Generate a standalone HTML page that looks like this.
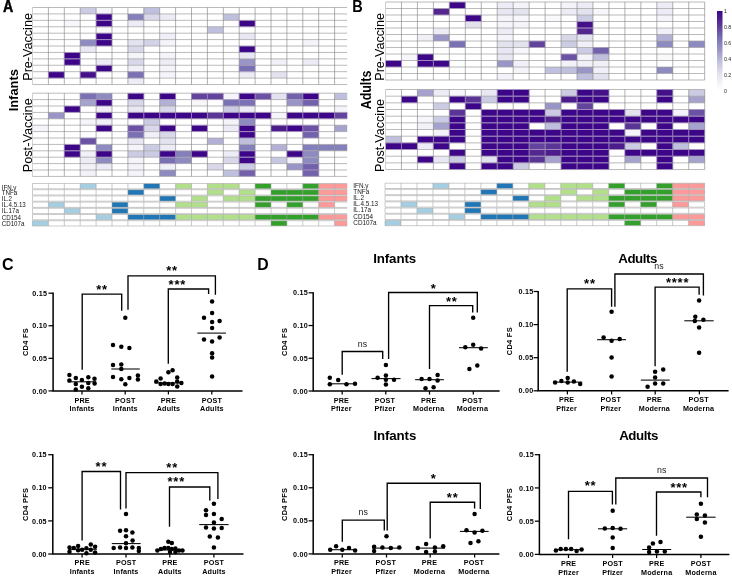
<!DOCTYPE html>
<html><head><meta charset="utf-8"><title>Figure</title>
<style>
html,body{margin:0;padding:0;background:#fff;}
body{width:732px;height:577px;overflow:hidden;font-family:"Liberation Sans",sans-serif;}
svg{display:block;will-change:transform;}
</style></head><body>
<svg width="732" height="577" viewBox="0 0 732 577">
<rect x="0" y="0" width="732" height="577" fill="#ffffff"/>
<rect x="80.20" y="7.50" width="15.90" height="6.42" fill="#cbcce3"/>
<rect x="96.10" y="7.50" width="15.90" height="6.42" fill="#f5f4fa"/>
<rect x="143.80" y="7.50" width="15.90" height="6.42" fill="#bfc0dd"/>
<rect x="96.10" y="13.92" width="15.90" height="6.42" fill="#3d0689"/>
<rect x="127.90" y="13.92" width="15.90" height="6.42" fill="#8380bb"/>
<rect x="143.80" y="13.92" width="15.90" height="6.42" fill="#d8d8ea"/>
<rect x="159.70" y="13.92" width="15.90" height="6.42" fill="#edebf5"/>
<rect x="223.30" y="13.92" width="15.90" height="6.42" fill="#bfc0dd"/>
<rect x="64.30" y="20.34" width="15.90" height="6.42" fill="#f7f6fa"/>
<rect x="96.10" y="20.34" width="15.90" height="6.42" fill="#3d0689"/>
<rect x="127.90" y="20.34" width="15.90" height="6.42" fill="#edebf5"/>
<rect x="239.20" y="20.34" width="15.90" height="6.42" fill="#3d0689"/>
<rect x="96.10" y="26.76" width="15.90" height="6.42" fill="#f9f8fb"/>
<rect x="207.40" y="26.76" width="15.90" height="6.42" fill="#bfc0dd"/>
<rect x="96.10" y="33.18" width="15.90" height="6.42" fill="#3d0689"/>
<rect x="159.70" y="33.18" width="15.90" height="6.42" fill="#f1eff7"/>
<rect x="239.20" y="33.18" width="15.90" height="6.42" fill="#e8e7f3"/>
<rect x="80.20" y="39.60" width="15.90" height="6.42" fill="#8e8bc1"/>
<rect x="96.10" y="39.60" width="15.90" height="6.42" fill="#3d0689"/>
<rect x="127.90" y="39.60" width="15.90" height="6.42" fill="#e3e2ef"/>
<rect x="143.80" y="39.60" width="15.90" height="6.42" fill="#d3d3e7"/>
<rect x="159.70" y="39.60" width="15.90" height="6.42" fill="#f5f4fa"/>
<rect x="302.80" y="39.60" width="15.90" height="6.42" fill="#f5f4fa"/>
<rect x="80.20" y="46.02" width="15.90" height="6.42" fill="#e8e7f3"/>
<rect x="127.90" y="46.02" width="15.90" height="6.42" fill="#d8d8ea"/>
<rect x="239.20" y="46.02" width="15.90" height="6.42" fill="#3d0689"/>
<rect x="64.30" y="52.44" width="15.90" height="6.42" fill="#3d0689"/>
<rect x="127.90" y="52.44" width="15.90" height="6.42" fill="#f5f4fa"/>
<rect x="159.70" y="52.44" width="15.90" height="6.42" fill="#f5f4fa"/>
<rect x="239.20" y="52.44" width="15.90" height="6.42" fill="#e8e7f3"/>
<rect x="64.30" y="58.86" width="15.90" height="6.42" fill="#3d0689"/>
<rect x="96.10" y="58.86" width="15.90" height="6.42" fill="#edebf5"/>
<rect x="127.90" y="58.86" width="15.90" height="6.42" fill="#d8d8ea"/>
<rect x="159.70" y="58.86" width="15.90" height="6.42" fill="#edebf5"/>
<rect x="239.20" y="58.86" width="15.90" height="6.42" fill="#9995c6"/>
<rect x="271.00" y="58.86" width="15.90" height="6.42" fill="#f1eff7"/>
<rect x="302.80" y="58.86" width="15.90" height="6.42" fill="#edebf5"/>
<rect x="96.10" y="65.28" width="15.90" height="6.42" fill="#3d0689"/>
<rect x="127.90" y="65.28" width="15.90" height="6.42" fill="#f1eff7"/>
<rect x="159.70" y="65.28" width="15.90" height="6.42" fill="#f5f4fa"/>
<rect x="239.20" y="65.28" width="15.90" height="6.42" fill="#7a71b4"/>
<rect x="48.40" y="71.70" width="15.90" height="6.42" fill="#3d0689"/>
<rect x="80.20" y="71.70" width="15.90" height="6.42" fill="#45118b"/>
<rect x="127.90" y="71.70" width="15.90" height="6.42" fill="#7a71b4"/>
<rect x="159.70" y="71.70" width="15.90" height="6.42" fill="#f5f4fa"/>
<rect x="239.20" y="71.70" width="15.90" height="6.42" fill="#edebf5"/>
<rect x="271.00" y="71.70" width="15.90" height="6.42" fill="#e3e2ef"/>
<rect x="127.90" y="78.12" width="15.90" height="6.42" fill="#edebf5"/>
<path d="M32.50 7.50H347.20M32.50 13.92H347.20M32.50 20.34H347.20M32.50 26.76H347.20M32.50 33.18H347.20M32.50 39.60H347.20M32.50 46.02H347.20M32.50 52.44H347.20M32.50 58.86H347.20M32.50 65.28H347.20M32.50 71.70H347.20M32.50 78.12H347.20M32.50 84.54H347.20" stroke="#a4a4a4" stroke-width="0.75" fill="none"/>
<path d="M48.40 7.50V84.54M64.30 7.50V84.54M80.20 7.50V84.54M96.10 7.50V84.54M112.00 7.50V84.54M127.90 7.50V84.54M143.80 7.50V84.54M159.70 7.50V84.54M175.60 7.50V84.54M191.50 7.50V84.54M207.40 7.50V84.54M223.30 7.50V84.54M239.20 7.50V84.54M255.10 7.50V84.54M271.00 7.50V84.54M286.90 7.50V84.54M302.80 7.50V84.54M318.70 7.50V84.54M334.60 7.50V84.54" stroke="#808080" stroke-width="0.62" fill="none"/>
<path d="M32.50 7.50V84.54" stroke="#c4c4c4" stroke-width="0.8" fill="none"/>
<path d="M96.10 13.92h15.90v6.42h-15.90zM96.10 20.34h15.90v6.42h-15.90zM239.20 20.34h15.90v6.42h-15.90zM96.10 33.18h15.90v6.42h-15.90zM96.10 39.60h15.90v6.42h-15.90zM239.20 46.02h15.90v6.42h-15.90zM64.30 52.44h15.90v6.42h-15.90zM64.30 58.86h15.90v6.42h-15.90zM96.10 65.28h15.90v6.42h-15.90zM239.20 65.28h15.90v6.42h-15.90zM48.40 71.70h15.90v6.42h-15.90zM80.20 71.70h15.90v6.42h-15.90zM127.90 71.70h15.90v6.42h-15.90z" stroke="#a684d8" stroke-opacity="0.42" stroke-width="0.75" fill="none"/>
<rect x="80.20" y="93.20" width="15.90" height="6.40" fill="#7a71b4"/>
<rect x="96.10" y="93.20" width="15.90" height="6.40" fill="#8e8bc1"/>
<rect x="127.90" y="93.20" width="15.90" height="6.40" fill="#3d0689"/>
<rect x="159.70" y="93.20" width="15.90" height="6.40" fill="#3d0689"/>
<rect x="191.50" y="93.20" width="15.90" height="6.40" fill="#63449d"/>
<rect x="207.40" y="93.20" width="15.90" height="6.40" fill="#63449d"/>
<rect x="223.30" y="93.20" width="15.90" height="6.40" fill="#f5f4fa"/>
<rect x="239.20" y="93.20" width="15.90" height="6.40" fill="#3d0689"/>
<rect x="255.10" y="93.20" width="15.90" height="6.40" fill="#6b52a4"/>
<rect x="271.00" y="93.20" width="15.90" height="6.40" fill="#e3e2ef"/>
<rect x="286.90" y="93.20" width="15.90" height="6.40" fill="#7262ac"/>
<rect x="302.80" y="93.20" width="15.90" height="6.40" fill="#3d0689"/>
<rect x="334.60" y="93.20" width="12.60" height="6.40" fill="#bfc0dd"/>
<rect x="80.20" y="99.60" width="15.90" height="6.40" fill="#a5a2cd"/>
<rect x="96.10" y="99.60" width="15.90" height="6.40" fill="#3d0689"/>
<rect x="127.90" y="99.60" width="15.90" height="6.40" fill="#d8d8ea"/>
<rect x="159.70" y="99.60" width="15.90" height="6.40" fill="#b2b1d5"/>
<rect x="191.50" y="99.60" width="15.90" height="6.40" fill="#f7f6fa"/>
<rect x="223.30" y="99.60" width="15.90" height="6.40" fill="#7a71b4"/>
<rect x="239.20" y="99.60" width="15.90" height="6.40" fill="#7a71b4"/>
<rect x="286.90" y="99.60" width="15.90" height="6.40" fill="#9995c6"/>
<rect x="302.80" y="99.60" width="15.90" height="6.40" fill="#7262ac"/>
<rect x="64.30" y="106.00" width="15.90" height="6.40" fill="#3d0689"/>
<rect x="96.10" y="106.00" width="15.90" height="6.40" fill="#f1eff7"/>
<rect x="127.90" y="106.00" width="15.90" height="6.40" fill="#e8e7f3"/>
<rect x="159.70" y="106.00" width="15.90" height="6.40" fill="#d8d8ea"/>
<rect x="223.30" y="106.00" width="15.90" height="6.40" fill="#cbcce3"/>
<rect x="239.20" y="106.00" width="15.90" height="6.40" fill="#edebf5"/>
<rect x="334.60" y="106.00" width="12.60" height="6.40" fill="#f5f4fa"/>
<rect x="48.40" y="112.40" width="15.90" height="6.40" fill="#9995c6"/>
<rect x="96.10" y="112.40" width="15.90" height="6.40" fill="#3d0689"/>
<rect x="127.90" y="112.40" width="15.90" height="6.40" fill="#3d0689"/>
<rect x="143.80" y="112.40" width="15.90" height="6.40" fill="#3d0689"/>
<rect x="159.70" y="112.40" width="15.90" height="6.40" fill="#3d0689"/>
<rect x="175.60" y="112.40" width="15.90" height="6.40" fill="#3d0689"/>
<rect x="191.50" y="112.40" width="15.90" height="6.40" fill="#3d0689"/>
<rect x="207.40" y="112.40" width="15.90" height="6.40" fill="#5b3596"/>
<rect x="223.30" y="112.40" width="15.90" height="6.40" fill="#3d0689"/>
<rect x="239.20" y="112.40" width="15.90" height="6.40" fill="#3d0689"/>
<rect x="255.10" y="112.40" width="15.90" height="6.40" fill="#3d0689"/>
<rect x="271.00" y="112.40" width="15.90" height="6.40" fill="#f5f4fa"/>
<rect x="286.90" y="112.40" width="15.90" height="6.40" fill="#3d0689"/>
<rect x="302.80" y="112.40" width="15.90" height="6.40" fill="#3d0689"/>
<rect x="318.70" y="112.40" width="15.90" height="6.40" fill="#3d0689"/>
<rect x="334.60" y="112.40" width="12.60" height="6.40" fill="#63449d"/>
<rect x="80.20" y="118.80" width="15.90" height="6.40" fill="#f5f4fa"/>
<rect x="96.10" y="118.80" width="15.90" height="6.40" fill="#f1eff7"/>
<rect x="143.80" y="118.80" width="15.90" height="6.40" fill="#cbcce3"/>
<rect x="223.30" y="118.80" width="15.90" height="6.40" fill="#f5f4fa"/>
<rect x="239.20" y="118.80" width="15.90" height="6.40" fill="#8e8bc1"/>
<rect x="32.50" y="125.20" width="15.90" height="6.40" fill="#f5f4fa"/>
<rect x="96.10" y="125.20" width="15.90" height="6.40" fill="#3d0689"/>
<rect x="127.90" y="125.20" width="15.90" height="6.40" fill="#6b52a4"/>
<rect x="143.80" y="125.20" width="15.90" height="6.40" fill="#d8d8ea"/>
<rect x="159.70" y="125.20" width="15.90" height="6.40" fill="#3d0689"/>
<rect x="191.50" y="125.20" width="15.90" height="6.40" fill="#3d0689"/>
<rect x="223.30" y="125.20" width="15.90" height="6.40" fill="#edebf5"/>
<rect x="239.20" y="125.20" width="15.90" height="6.40" fill="#3d0689"/>
<rect x="271.00" y="125.20" width="15.90" height="6.40" fill="#4c1c8d"/>
<rect x="286.90" y="125.20" width="15.90" height="6.40" fill="#3d0689"/>
<rect x="302.80" y="125.20" width="15.90" height="6.40" fill="#6b52a4"/>
<rect x="334.60" y="125.20" width="12.60" height="6.40" fill="#a5a2cd"/>
<rect x="127.90" y="131.60" width="15.90" height="6.40" fill="#7a71b4"/>
<rect x="143.80" y="131.60" width="15.90" height="6.40" fill="#f1eff7"/>
<rect x="159.70" y="131.60" width="15.90" height="6.40" fill="#d8d8ea"/>
<rect x="239.20" y="131.60" width="15.90" height="6.40" fill="#3d0689"/>
<rect x="302.80" y="131.60" width="15.90" height="6.40" fill="#7262ac"/>
<rect x="80.20" y="138.00" width="15.90" height="6.40" fill="#6b52a4"/>
<rect x="127.90" y="138.00" width="15.90" height="6.40" fill="#e8e7f3"/>
<rect x="159.70" y="138.00" width="15.90" height="6.40" fill="#e3e2ef"/>
<rect x="207.40" y="138.00" width="15.90" height="6.40" fill="#b2b1d5"/>
<rect x="239.20" y="138.00" width="15.90" height="6.40" fill="#bfc0dd"/>
<rect x="64.30" y="144.40" width="15.90" height="6.40" fill="#3d0689"/>
<rect x="96.10" y="144.40" width="15.90" height="6.40" fill="#8e8bc1"/>
<rect x="127.90" y="144.40" width="15.90" height="6.40" fill="#f5f4fa"/>
<rect x="143.80" y="144.40" width="15.90" height="6.40" fill="#cbcce3"/>
<rect x="159.70" y="144.40" width="15.90" height="6.40" fill="#edebf5"/>
<rect x="239.20" y="144.40" width="15.90" height="6.40" fill="#8380bb"/>
<rect x="271.00" y="144.40" width="15.90" height="6.40" fill="#b2b1d5"/>
<rect x="302.80" y="144.40" width="15.90" height="6.40" fill="#8380bb"/>
<rect x="318.70" y="144.40" width="15.90" height="6.40" fill="#8380bb"/>
<rect x="334.60" y="144.40" width="12.60" height="6.40" fill="#8380bb"/>
<rect x="64.30" y="150.80" width="15.90" height="6.40" fill="#3d0689"/>
<rect x="80.20" y="150.80" width="15.90" height="6.40" fill="#f1eff7"/>
<rect x="96.10" y="150.80" width="15.90" height="6.40" fill="#3d0689"/>
<rect x="127.90" y="150.80" width="15.90" height="6.40" fill="#cbcce3"/>
<rect x="143.80" y="150.80" width="15.90" height="6.40" fill="#cbcce3"/>
<rect x="159.70" y="150.80" width="15.90" height="6.40" fill="#3d0689"/>
<rect x="175.60" y="150.80" width="15.90" height="6.40" fill="#8380bb"/>
<rect x="191.50" y="150.80" width="15.90" height="6.40" fill="#3d0689"/>
<rect x="223.30" y="150.80" width="15.90" height="6.40" fill="#edebf5"/>
<rect x="239.20" y="150.80" width="15.90" height="6.40" fill="#3d0689"/>
<rect x="286.90" y="150.80" width="15.90" height="6.40" fill="#3d0689"/>
<rect x="302.80" y="150.80" width="15.90" height="6.40" fill="#8e8bc1"/>
<rect x="80.20" y="157.20" width="15.90" height="6.40" fill="#edebf5"/>
<rect x="96.10" y="157.20" width="15.90" height="6.40" fill="#8e8bc1"/>
<rect x="127.90" y="157.20" width="15.90" height="6.40" fill="#f5f4fa"/>
<rect x="159.70" y="157.20" width="15.90" height="6.40" fill="#7a71b4"/>
<rect x="175.60" y="157.20" width="15.90" height="6.40" fill="#8e8bc1"/>
<rect x="223.30" y="157.20" width="15.90" height="6.40" fill="#d8d8ea"/>
<rect x="239.20" y="157.20" width="15.90" height="6.40" fill="#3d0689"/>
<rect x="271.00" y="157.20" width="15.90" height="6.40" fill="#c6c7e1"/>
<rect x="286.90" y="157.20" width="15.90" height="6.40" fill="#f4f2f9"/>
<rect x="302.80" y="157.20" width="15.90" height="6.40" fill="#8e8bc1"/>
<rect x="80.20" y="163.60" width="15.90" height="6.40" fill="#f4f2f9"/>
<rect x="96.10" y="163.60" width="15.90" height="6.40" fill="#edebf5"/>
<rect x="127.90" y="163.60" width="15.90" height="6.40" fill="#f5f4fa"/>
<rect x="159.70" y="163.60" width="15.90" height="6.40" fill="#f1eff7"/>
<rect x="207.40" y="163.60" width="15.90" height="6.40" fill="#d8d8ea"/>
<rect x="239.20" y="163.60" width="15.90" height="6.40" fill="#cbcce3"/>
<rect x="286.90" y="163.60" width="15.90" height="6.40" fill="#9995c6"/>
<rect x="302.80" y="163.60" width="15.90" height="6.40" fill="#7262ac"/>
<rect x="80.20" y="170.00" width="15.90" height="6.40" fill="#f4f2f9"/>
<rect x="127.90" y="170.00" width="15.90" height="6.40" fill="#f5f4fa"/>
<rect x="159.70" y="170.00" width="15.90" height="6.40" fill="#8e8bc1"/>
<rect x="223.30" y="170.00" width="15.90" height="6.40" fill="#bfc0dd"/>
<rect x="239.20" y="170.00" width="15.90" height="6.40" fill="#7262ac"/>
<rect x="302.80" y="170.00" width="15.90" height="6.40" fill="#7262ac"/>
<path d="M32.50 93.20H347.20M32.50 99.60H347.20M32.50 106.00H347.20M32.50 112.40H347.20M32.50 118.80H347.20M32.50 125.20H347.20M32.50 131.60H347.20M32.50 138.00H347.20M32.50 144.40H347.20M32.50 150.80H347.20M32.50 157.20H347.20M32.50 163.60H347.20M32.50 170.00H347.20M32.50 176.40H347.20" stroke="#a4a4a4" stroke-width="0.75" fill="none"/>
<path d="M48.40 93.20V176.40M64.30 93.20V176.40M80.20 93.20V176.40M96.10 93.20V176.40M112.00 93.20V176.40M127.90 93.20V176.40M143.80 93.20V176.40M159.70 93.20V176.40M175.60 93.20V176.40M191.50 93.20V176.40M207.40 93.20V176.40M223.30 93.20V176.40M239.20 93.20V176.40M255.10 93.20V176.40M271.00 93.20V176.40M286.90 93.20V176.40M302.80 93.20V176.40M318.70 93.20V176.40M334.60 93.20V176.40" stroke="#808080" stroke-width="0.62" fill="none"/>
<path d="M32.50 93.20V176.40" stroke="#c4c4c4" stroke-width="0.8" fill="none"/>
<path d="M80.20 93.20h15.90v6.40h-15.90zM127.90 93.20h15.90v6.40h-15.90zM159.70 93.20h15.90v6.40h-15.90zM191.50 93.20h15.90v6.40h-15.90zM207.40 93.20h15.90v6.40h-15.90zM239.20 93.20h15.90v6.40h-15.90zM255.10 93.20h15.90v6.40h-15.90zM286.90 93.20h15.90v6.40h-15.90zM302.80 93.20h15.90v6.40h-15.90zM96.10 99.60h15.90v6.40h-15.90zM223.30 99.60h15.90v6.40h-15.90zM239.20 99.60h15.90v6.40h-15.90zM302.80 99.60h15.90v6.40h-15.90zM64.30 106.00h15.90v6.40h-15.90zM96.10 112.40h15.90v6.40h-15.90zM127.90 112.40h15.90v6.40h-15.90zM143.80 112.40h15.90v6.40h-15.90zM159.70 112.40h15.90v6.40h-15.90zM175.60 112.40h15.90v6.40h-15.90zM191.50 112.40h15.90v6.40h-15.90zM207.40 112.40h15.90v6.40h-15.90zM223.30 112.40h15.90v6.40h-15.90zM239.20 112.40h15.90v6.40h-15.90zM255.10 112.40h15.90v6.40h-15.90zM286.90 112.40h15.90v6.40h-15.90zM302.80 112.40h15.90v6.40h-15.90zM318.70 112.40h15.90v6.40h-15.90zM334.60 112.40h12.60v6.40h-12.60zM96.10 125.20h15.90v6.40h-15.90zM127.90 125.20h15.90v6.40h-15.90zM159.70 125.20h15.90v6.40h-15.90zM191.50 125.20h15.90v6.40h-15.90zM239.20 125.20h15.90v6.40h-15.90zM271.00 125.20h15.90v6.40h-15.90zM286.90 125.20h15.90v6.40h-15.90zM302.80 125.20h15.90v6.40h-15.90zM127.90 131.60h15.90v6.40h-15.90zM239.20 131.60h15.90v6.40h-15.90zM302.80 131.60h15.90v6.40h-15.90zM80.20 138.00h15.90v6.40h-15.90zM64.30 144.40h15.90v6.40h-15.90zM64.30 150.80h15.90v6.40h-15.90zM96.10 150.80h15.90v6.40h-15.90zM159.70 150.80h15.90v6.40h-15.90zM191.50 150.80h15.90v6.40h-15.90zM239.20 150.80h15.90v6.40h-15.90zM286.90 150.80h15.90v6.40h-15.90zM159.70 157.20h15.90v6.40h-15.90zM239.20 157.20h15.90v6.40h-15.90zM302.80 163.60h15.90v6.40h-15.90zM239.20 170.00h15.90v6.40h-15.90zM302.80 170.00h15.90v6.40h-15.90z" stroke="#a684d8" stroke-opacity="0.42" stroke-width="0.75" fill="none"/>
<rect x="80.20" y="183.50" width="15.90" height="5.30" fill="#a6cee3"/>
<rect x="143.80" y="183.50" width="15.90" height="5.30" fill="#2177b5"/>
<rect x="175.60" y="183.50" width="15.90" height="5.30" fill="#b2df8a"/>
<rect x="207.40" y="183.50" width="15.90" height="5.30" fill="#b2df8a"/>
<rect x="223.30" y="183.50" width="15.90" height="5.30" fill="#b2df8a"/>
<rect x="255.10" y="183.50" width="15.90" height="5.30" fill="#33a02c"/>
<rect x="302.80" y="183.50" width="15.90" height="5.30" fill="#33a02c"/>
<rect x="318.70" y="183.50" width="15.90" height="5.30" fill="#fb9a99"/>
<rect x="334.60" y="183.50" width="12.60" height="5.30" fill="#fb9a99"/>
<rect x="127.90" y="189.70" width="15.90" height="5.30" fill="#2177b5"/>
<rect x="207.40" y="189.70" width="15.90" height="5.30" fill="#b2df8a"/>
<rect x="239.20" y="189.70" width="15.90" height="5.30" fill="#b2df8a"/>
<rect x="271.00" y="189.70" width="15.90" height="5.30" fill="#33a02c"/>
<rect x="286.90" y="189.70" width="15.90" height="5.30" fill="#33a02c"/>
<rect x="302.80" y="189.70" width="15.90" height="5.30" fill="#33a02c"/>
<rect x="318.70" y="189.70" width="15.90" height="5.30" fill="#fb9a99"/>
<rect x="334.60" y="189.70" width="12.60" height="5.30" fill="#fb9a99"/>
<rect x="159.70" y="195.90" width="15.90" height="5.30" fill="#2177b5"/>
<rect x="191.50" y="195.90" width="15.90" height="5.30" fill="#b2df8a"/>
<rect x="223.30" y="195.90" width="15.90" height="5.30" fill="#b2df8a"/>
<rect x="239.20" y="195.90" width="15.90" height="5.30" fill="#b2df8a"/>
<rect x="255.10" y="195.90" width="15.90" height="5.30" fill="#33a02c"/>
<rect x="271.00" y="195.90" width="15.90" height="5.30" fill="#33a02c"/>
<rect x="286.90" y="195.90" width="15.90" height="5.30" fill="#33a02c"/>
<rect x="302.80" y="195.90" width="15.90" height="5.30" fill="#33a02c"/>
<rect x="318.70" y="195.90" width="15.90" height="5.30" fill="#fb9a99"/>
<rect x="334.60" y="195.90" width="12.60" height="5.30" fill="#fb9a99"/>
<rect x="48.40" y="202.10" width="15.90" height="5.30" fill="#a6cee3"/>
<rect x="112.00" y="202.10" width="15.90" height="5.30" fill="#2177b5"/>
<rect x="175.60" y="202.10" width="15.90" height="5.30" fill="#b2df8a"/>
<rect x="191.50" y="202.10" width="15.90" height="5.30" fill="#b2df8a"/>
<rect x="255.10" y="202.10" width="15.90" height="5.30" fill="#33a02c"/>
<rect x="286.90" y="202.10" width="15.90" height="5.30" fill="#33a02c"/>
<rect x="318.70" y="202.10" width="15.90" height="5.30" fill="#fb9a99"/>
<rect x="64.30" y="208.30" width="15.90" height="5.30" fill="#a6cee3"/>
<rect x="112.00" y="208.30" width="15.90" height="5.30" fill="#2177b5"/>
<rect x="96.10" y="214.50" width="15.90" height="5.30" fill="#a6cee3"/>
<rect x="127.90" y="214.50" width="15.90" height="5.30" fill="#2177b5"/>
<rect x="143.80" y="214.50" width="15.90" height="5.30" fill="#2177b5"/>
<rect x="159.70" y="214.50" width="15.90" height="5.30" fill="#2177b5"/>
<rect x="175.60" y="214.50" width="15.90" height="5.30" fill="#b2df8a"/>
<rect x="191.50" y="214.50" width="15.90" height="5.30" fill="#b2df8a"/>
<rect x="207.40" y="214.50" width="15.90" height="5.30" fill="#b2df8a"/>
<rect x="223.30" y="214.50" width="15.90" height="5.30" fill="#b2df8a"/>
<rect x="239.20" y="214.50" width="15.90" height="5.30" fill="#b2df8a"/>
<rect x="255.10" y="214.50" width="15.90" height="5.30" fill="#33a02c"/>
<rect x="271.00" y="214.50" width="15.90" height="5.30" fill="#33a02c"/>
<rect x="286.90" y="214.50" width="15.90" height="5.30" fill="#33a02c"/>
<rect x="302.80" y="214.50" width="15.90" height="5.30" fill="#33a02c"/>
<rect x="318.70" y="214.50" width="15.90" height="5.30" fill="#fb9a99"/>
<rect x="334.60" y="214.50" width="12.60" height="5.30" fill="#fb9a99"/>
<rect x="32.50" y="220.70" width="15.90" height="5.30" fill="#a6cee3"/>
<rect x="271.00" y="220.70" width="15.90" height="5.30" fill="#33a02c"/>
<rect x="334.60" y="220.70" width="12.60" height="5.30" fill="#fb9a99"/>
<path d="M32.50 183.50H347.20M32.50 188.80H347.20M32.50 189.70H347.20M32.50 195.00H347.20M32.50 195.90H347.20M32.50 201.20H347.20M32.50 202.10H347.20M32.50 207.40H347.20M32.50 208.30H347.20M32.50 213.60H347.20M32.50 214.50H347.20M32.50 219.80H347.20M32.50 220.70H347.20M32.50 226.00H347.20" stroke="#b4b4b4" stroke-width="0.7" fill="none"/>
<path d="M32.50 183.50V188.80M48.40 183.50V188.80M64.30 183.50V188.80M80.20 183.50V188.80M96.10 183.50V188.80M112.00 183.50V188.80M127.90 183.50V188.80M143.80 183.50V188.80M159.70 183.50V188.80M175.60 183.50V188.80M191.50 183.50V188.80M207.40 183.50V188.80M223.30 183.50V188.80M239.20 183.50V188.80M255.10 183.50V188.80M271.00 183.50V188.80M286.90 183.50V188.80M302.80 183.50V188.80M318.70 183.50V188.80M334.60 183.50V188.80M32.50 189.70V195.00M48.40 189.70V195.00M64.30 189.70V195.00M80.20 189.70V195.00M96.10 189.70V195.00M112.00 189.70V195.00M127.90 189.70V195.00M143.80 189.70V195.00M159.70 189.70V195.00M175.60 189.70V195.00M191.50 189.70V195.00M207.40 189.70V195.00M223.30 189.70V195.00M239.20 189.70V195.00M255.10 189.70V195.00M271.00 189.70V195.00M286.90 189.70V195.00M302.80 189.70V195.00M318.70 189.70V195.00M334.60 189.70V195.00M32.50 195.90V201.20M48.40 195.90V201.20M64.30 195.90V201.20M80.20 195.90V201.20M96.10 195.90V201.20M112.00 195.90V201.20M127.90 195.90V201.20M143.80 195.90V201.20M159.70 195.90V201.20M175.60 195.90V201.20M191.50 195.90V201.20M207.40 195.90V201.20M223.30 195.90V201.20M239.20 195.90V201.20M255.10 195.90V201.20M271.00 195.90V201.20M286.90 195.90V201.20M302.80 195.90V201.20M318.70 195.90V201.20M334.60 195.90V201.20M32.50 202.10V207.40M48.40 202.10V207.40M64.30 202.10V207.40M80.20 202.10V207.40M96.10 202.10V207.40M112.00 202.10V207.40M127.90 202.10V207.40M143.80 202.10V207.40M159.70 202.10V207.40M175.60 202.10V207.40M191.50 202.10V207.40M207.40 202.10V207.40M223.30 202.10V207.40M239.20 202.10V207.40M255.10 202.10V207.40M271.00 202.10V207.40M286.90 202.10V207.40M302.80 202.10V207.40M318.70 202.10V207.40M334.60 202.10V207.40M32.50 208.30V213.60M48.40 208.30V213.60M64.30 208.30V213.60M80.20 208.30V213.60M96.10 208.30V213.60M112.00 208.30V213.60M127.90 208.30V213.60M143.80 208.30V213.60M159.70 208.30V213.60M175.60 208.30V213.60M191.50 208.30V213.60M207.40 208.30V213.60M223.30 208.30V213.60M239.20 208.30V213.60M255.10 208.30V213.60M271.00 208.30V213.60M286.90 208.30V213.60M302.80 208.30V213.60M318.70 208.30V213.60M334.60 208.30V213.60M32.50 214.50V219.80M48.40 214.50V219.80M64.30 214.50V219.80M80.20 214.50V219.80M96.10 214.50V219.80M112.00 214.50V219.80M127.90 214.50V219.80M143.80 214.50V219.80M159.70 214.50V219.80M175.60 214.50V219.80M191.50 214.50V219.80M207.40 214.50V219.80M223.30 214.50V219.80M239.20 214.50V219.80M255.10 214.50V219.80M271.00 214.50V219.80M286.90 214.50V219.80M302.80 214.50V219.80M318.70 214.50V219.80M334.60 214.50V219.80M32.50 220.70V226.00M48.40 220.70V226.00M64.30 220.70V226.00M80.20 220.70V226.00M96.10 220.70V226.00M112.00 220.70V226.00M127.90 220.70V226.00M143.80 220.70V226.00M159.70 220.70V226.00M175.60 220.70V226.00M191.50 220.70V226.00M207.40 220.70V226.00M223.30 220.70V226.00M239.20 220.70V226.00M255.10 220.70V226.00M271.00 220.70V226.00M286.90 220.70V226.00M302.80 220.70V226.00M318.70 220.70V226.00M334.60 220.70V226.00" stroke="#9c9c9c" stroke-opacity="0.75" stroke-width="0.7" fill="none"/>
<rect x="449.34" y="2.00" width="15.96" height="6.50" fill="#3d0689"/>
<rect x="497.22" y="2.00" width="15.96" height="6.50" fill="#edebf5"/>
<rect x="513.18" y="2.00" width="15.96" height="6.50" fill="#f5f4fa"/>
<rect x="561.06" y="2.00" width="15.96" height="6.50" fill="#f5f4fa"/>
<rect x="577.02" y="2.00" width="15.96" height="6.50" fill="#edebf5"/>
<rect x="656.82" y="2.00" width="15.96" height="6.50" fill="#edebf5"/>
<rect x="433.38" y="8.50" width="15.96" height="6.50" fill="#54278f"/>
<rect x="497.22" y="8.50" width="15.96" height="6.50" fill="#e8e7f3"/>
<rect x="513.18" y="8.50" width="15.96" height="6.50" fill="#e3e2ef"/>
<rect x="561.06" y="8.50" width="15.96" height="6.50" fill="#edebf5"/>
<rect x="577.02" y="8.50" width="15.96" height="6.50" fill="#e3e2ef"/>
<rect x="592.98" y="8.50" width="15.96" height="6.50" fill="#f7f6fa"/>
<rect x="656.82" y="8.50" width="15.96" height="6.50" fill="#edebf5"/>
<rect x="465.30" y="15.00" width="15.96" height="6.50" fill="#3d0689"/>
<rect x="497.22" y="15.00" width="15.96" height="6.50" fill="#f5f4fa"/>
<rect x="513.18" y="15.00" width="15.96" height="6.50" fill="#f7f6fa"/>
<rect x="545.10" y="15.00" width="15.96" height="6.50" fill="#f9f8fb"/>
<rect x="577.02" y="15.00" width="15.96" height="6.50" fill="#cbcce3"/>
<rect x="656.82" y="15.00" width="15.96" height="6.50" fill="#f5f4fa"/>
<rect x="465.30" y="21.50" width="15.96" height="6.50" fill="#e3e2ef"/>
<rect x="497.22" y="21.50" width="15.96" height="6.50" fill="#f5f4fa"/>
<rect x="513.18" y="21.50" width="15.96" height="6.50" fill="#f5f4fa"/>
<rect x="577.02" y="21.50" width="15.96" height="6.50" fill="#45118b"/>
<rect x="433.38" y="28.00" width="15.96" height="6.50" fill="#edebf5"/>
<rect x="497.22" y="28.00" width="15.96" height="6.50" fill="#edebf5"/>
<rect x="577.02" y="28.00" width="15.96" height="6.50" fill="#54278f"/>
<rect x="656.82" y="28.00" width="15.96" height="6.50" fill="#f1eff7"/>
<rect x="417.42" y="34.50" width="15.96" height="6.50" fill="#f1eff7"/>
<rect x="433.38" y="34.50" width="15.96" height="6.50" fill="#9995c6"/>
<rect x="497.22" y="34.50" width="15.96" height="6.50" fill="#f5f4fa"/>
<rect x="561.06" y="34.50" width="15.96" height="6.50" fill="#d8d8ea"/>
<rect x="577.02" y="34.50" width="15.96" height="6.50" fill="#e3e2ef"/>
<rect x="656.82" y="34.50" width="15.96" height="6.50" fill="#b2b1d5"/>
<rect x="449.34" y="41.00" width="15.96" height="6.50" fill="#7a71b4"/>
<rect x="497.22" y="41.00" width="15.96" height="6.50" fill="#e3e2ef"/>
<rect x="513.18" y="41.00" width="15.96" height="6.50" fill="#e3e2ef"/>
<rect x="529.14" y="41.00" width="15.96" height="6.50" fill="#63449d"/>
<rect x="561.06" y="41.00" width="15.96" height="6.50" fill="#cbcce3"/>
<rect x="577.02" y="41.00" width="15.96" height="6.50" fill="#f1eff7"/>
<rect x="656.82" y="41.00" width="15.96" height="6.50" fill="#8e8bc1"/>
<rect x="688.74" y="41.00" width="15.96" height="6.50" fill="#8e8bc1"/>
<rect x="497.22" y="47.50" width="15.96" height="6.50" fill="#e8e7f3"/>
<rect x="513.18" y="47.50" width="15.96" height="6.50" fill="#f7f6fa"/>
<rect x="577.02" y="47.50" width="15.96" height="6.50" fill="#cbcce3"/>
<rect x="592.98" y="47.50" width="15.96" height="6.50" fill="#7262ac"/>
<rect x="401.46" y="54.00" width="15.96" height="6.50" fill="#f7f6fa"/>
<rect x="417.42" y="54.00" width="15.96" height="6.50" fill="#3d0689"/>
<rect x="497.22" y="54.00" width="15.96" height="6.50" fill="#e8e7f3"/>
<rect x="561.06" y="54.00" width="15.96" height="6.50" fill="#6b52a4"/>
<rect x="577.02" y="54.00" width="15.96" height="6.50" fill="#f5f4fa"/>
<rect x="592.98" y="54.00" width="15.96" height="6.50" fill="#bfc0dd"/>
<rect x="656.82" y="54.00" width="15.96" height="6.50" fill="#f9f8fb"/>
<rect x="385.50" y="60.50" width="15.96" height="6.50" fill="#3d0689"/>
<rect x="417.42" y="60.50" width="15.96" height="6.50" fill="#3d0689"/>
<rect x="433.38" y="60.50" width="15.96" height="6.50" fill="#3d0689"/>
<rect x="497.22" y="60.50" width="15.96" height="6.50" fill="#9995c6"/>
<rect x="513.18" y="60.50" width="15.96" height="6.50" fill="#f1eff7"/>
<rect x="561.06" y="60.50" width="15.96" height="6.50" fill="#f4f2f9"/>
<rect x="577.02" y="60.50" width="15.96" height="6.50" fill="#f1eff7"/>
<rect x="592.98" y="60.50" width="15.96" height="6.50" fill="#f1eff7"/>
<rect x="513.18" y="67.00" width="15.96" height="6.50" fill="#f5f4fa"/>
<rect x="545.10" y="67.00" width="15.96" height="6.50" fill="#bfc0dd"/>
<rect x="561.06" y="67.00" width="15.96" height="6.50" fill="#bfc0dd"/>
<rect x="577.02" y="67.00" width="15.96" height="6.50" fill="#9995c6"/>
<rect x="592.98" y="67.00" width="15.96" height="6.50" fill="#f1eff7"/>
<rect x="656.82" y="67.00" width="15.96" height="6.50" fill="#8e8bc1"/>
<rect x="497.22" y="73.50" width="15.96" height="6.50" fill="#f4f2f9"/>
<rect x="577.02" y="73.50" width="15.96" height="6.50" fill="#bfc0dd"/>
<rect x="592.98" y="73.50" width="15.96" height="6.50" fill="#e3e2ef"/>
<path d="M385.50 2.00H704.70M385.50 8.50H704.70M385.50 15.00H704.70M385.50 21.50H704.70M385.50 28.00H704.70M385.50 34.50H704.70M385.50 41.00H704.70M385.50 47.50H704.70M385.50 54.00H704.70M385.50 60.50H704.70M385.50 67.00H704.70M385.50 73.50H704.70M385.50 80.00H704.70" stroke="#a4a4a4" stroke-width="0.75" fill="none"/>
<path d="M401.46 2.00V80.00M417.42 2.00V80.00M433.38 2.00V80.00M449.34 2.00V80.00M465.30 2.00V80.00M481.26 2.00V80.00M497.22 2.00V80.00M513.18 2.00V80.00M529.14 2.00V80.00M545.10 2.00V80.00M561.06 2.00V80.00M577.02 2.00V80.00M592.98 2.00V80.00M608.94 2.00V80.00M624.90 2.00V80.00M640.86 2.00V80.00M656.82 2.00V80.00M672.78 2.00V80.00M688.74 2.00V80.00M704.70 2.00V80.00" stroke="#808080" stroke-width="0.62" fill="none"/>
<path d="M385.50 2.00V80.00" stroke="#c4c4c4" stroke-width="0.8" fill="none"/>
<path d="M449.34 2.00h15.96v6.50h-15.96zM433.38 8.50h15.96v6.50h-15.96zM465.30 15.00h15.96v6.50h-15.96zM577.02 21.50h15.96v6.50h-15.96zM577.02 28.00h15.96v6.50h-15.96zM449.34 41.00h15.96v6.50h-15.96zM529.14 41.00h15.96v6.50h-15.96zM592.98 47.50h15.96v6.50h-15.96zM417.42 54.00h15.96v6.50h-15.96zM561.06 54.00h15.96v6.50h-15.96zM385.50 60.50h15.96v6.50h-15.96zM417.42 60.50h15.96v6.50h-15.96zM433.38 60.50h15.96v6.50h-15.96z" stroke="#a684d8" stroke-opacity="0.42" stroke-width="0.75" fill="none"/>
<rect x="417.42" y="89.50" width="15.96" height="6.67" fill="#a5a2cd"/>
<rect x="433.38" y="89.50" width="15.96" height="6.67" fill="#edebf5"/>
<rect x="449.34" y="89.50" width="15.96" height="6.67" fill="#f7f6fa"/>
<rect x="481.26" y="89.50" width="15.96" height="6.67" fill="#e8e7f3"/>
<rect x="497.22" y="89.50" width="15.96" height="6.67" fill="#3d0689"/>
<rect x="513.18" y="89.50" width="15.96" height="6.67" fill="#3d0689"/>
<rect x="561.06" y="89.50" width="15.96" height="6.67" fill="#cbcce3"/>
<rect x="577.02" y="89.50" width="15.96" height="6.67" fill="#3d0689"/>
<rect x="592.98" y="89.50" width="15.96" height="6.67" fill="#45118b"/>
<rect x="656.82" y="89.50" width="15.96" height="6.67" fill="#45118b"/>
<rect x="688.74" y="89.50" width="15.96" height="6.67" fill="#cbcce3"/>
<rect x="401.46" y="96.17" width="15.96" height="6.67" fill="#3d0689"/>
<rect x="449.34" y="96.17" width="15.96" height="6.67" fill="#3d0689"/>
<rect x="465.30" y="96.17" width="15.96" height="6.67" fill="#5b3596"/>
<rect x="481.26" y="96.17" width="15.96" height="6.67" fill="#cbcce3"/>
<rect x="497.22" y="96.17" width="15.96" height="6.67" fill="#3d0689"/>
<rect x="513.18" y="96.17" width="15.96" height="6.67" fill="#3d0689"/>
<rect x="561.06" y="96.17" width="15.96" height="6.67" fill="#4c1c8d"/>
<rect x="577.02" y="96.17" width="15.96" height="6.67" fill="#3d0689"/>
<rect x="592.98" y="96.17" width="15.96" height="6.67" fill="#3d0689"/>
<rect x="656.82" y="96.17" width="15.96" height="6.67" fill="#3d0689"/>
<rect x="688.74" y="96.17" width="15.96" height="6.67" fill="#a5a2cd"/>
<rect x="433.38" y="102.84" width="15.96" height="6.67" fill="#cbcce3"/>
<rect x="465.30" y="102.84" width="15.96" height="6.67" fill="#3d0689"/>
<rect x="545.10" y="102.84" width="15.96" height="6.67" fill="#9995c6"/>
<rect x="577.02" y="102.84" width="15.96" height="6.67" fill="#63449d"/>
<rect x="449.34" y="109.51" width="15.96" height="6.67" fill="#5b3596"/>
<rect x="481.26" y="109.51" width="15.96" height="6.67" fill="#3d0689"/>
<rect x="497.22" y="109.51" width="15.96" height="6.67" fill="#3d0689"/>
<rect x="513.18" y="109.51" width="15.96" height="6.67" fill="#3d0689"/>
<rect x="529.14" y="109.51" width="15.96" height="6.67" fill="#3d0689"/>
<rect x="545.10" y="109.51" width="15.96" height="6.67" fill="#cbcce3"/>
<rect x="561.06" y="109.51" width="15.96" height="6.67" fill="#3d0689"/>
<rect x="577.02" y="109.51" width="15.96" height="6.67" fill="#3d0689"/>
<rect x="592.98" y="109.51" width="15.96" height="6.67" fill="#3d0689"/>
<rect x="608.94" y="109.51" width="15.96" height="6.67" fill="#3d0689"/>
<rect x="624.90" y="109.51" width="15.96" height="6.67" fill="#e3e2ef"/>
<rect x="640.86" y="109.51" width="15.96" height="6.67" fill="#3d0689"/>
<rect x="656.82" y="109.51" width="15.96" height="6.67" fill="#3d0689"/>
<rect x="672.78" y="109.51" width="15.96" height="6.67" fill="#f5f4fa"/>
<rect x="688.74" y="109.51" width="15.96" height="6.67" fill="#6b52a4"/>
<rect x="417.42" y="116.18" width="15.96" height="6.67" fill="#f7f6fa"/>
<rect x="433.38" y="116.18" width="15.96" height="6.67" fill="#cbcce3"/>
<rect x="449.34" y="116.18" width="15.96" height="6.67" fill="#3d0689"/>
<rect x="481.26" y="116.18" width="15.96" height="6.67" fill="#3d0689"/>
<rect x="497.22" y="116.18" width="15.96" height="6.67" fill="#3d0689"/>
<rect x="513.18" y="116.18" width="15.96" height="6.67" fill="#3d0689"/>
<rect x="529.14" y="116.18" width="15.96" height="6.67" fill="#3d0689"/>
<rect x="545.10" y="116.18" width="15.96" height="6.67" fill="#54278f"/>
<rect x="561.06" y="116.18" width="15.96" height="6.67" fill="#3d0689"/>
<rect x="577.02" y="116.18" width="15.96" height="6.67" fill="#3d0689"/>
<rect x="592.98" y="116.18" width="15.96" height="6.67" fill="#3d0689"/>
<rect x="608.94" y="116.18" width="15.96" height="6.67" fill="#3d0689"/>
<rect x="624.90" y="116.18" width="15.96" height="6.67" fill="#3d0689"/>
<rect x="640.86" y="116.18" width="15.96" height="6.67" fill="#3d0689"/>
<rect x="656.82" y="116.18" width="15.96" height="6.67" fill="#3d0689"/>
<rect x="672.78" y="116.18" width="15.96" height="6.67" fill="#3d0689"/>
<rect x="688.74" y="116.18" width="15.96" height="6.67" fill="#3d0689"/>
<rect x="417.42" y="122.85" width="15.96" height="6.67" fill="#f4f2f9"/>
<rect x="433.38" y="122.85" width="15.96" height="6.67" fill="#a5a2cd"/>
<rect x="449.34" y="122.85" width="15.96" height="6.67" fill="#3d0689"/>
<rect x="481.26" y="122.85" width="15.96" height="6.67" fill="#3d0689"/>
<rect x="497.22" y="122.85" width="15.96" height="6.67" fill="#3d0689"/>
<rect x="513.18" y="122.85" width="15.96" height="6.67" fill="#3d0689"/>
<rect x="545.10" y="122.85" width="15.96" height="6.67" fill="#bfc0dd"/>
<rect x="561.06" y="122.85" width="15.96" height="6.67" fill="#3d0689"/>
<rect x="577.02" y="122.85" width="15.96" height="6.67" fill="#3d0689"/>
<rect x="592.98" y="122.85" width="15.96" height="6.67" fill="#3d0689"/>
<rect x="624.90" y="122.85" width="15.96" height="6.67" fill="#5b3596"/>
<rect x="656.82" y="122.85" width="15.96" height="6.67" fill="#3d0689"/>
<rect x="688.74" y="122.85" width="15.96" height="6.67" fill="#a5a2cd"/>
<rect x="433.38" y="129.52" width="15.96" height="6.67" fill="#f4f2f9"/>
<rect x="449.34" y="129.52" width="15.96" height="6.67" fill="#3d0689"/>
<rect x="481.26" y="129.52" width="15.96" height="6.67" fill="#3d0689"/>
<rect x="497.22" y="129.52" width="15.96" height="6.67" fill="#3d0689"/>
<rect x="513.18" y="129.52" width="15.96" height="6.67" fill="#3d0689"/>
<rect x="529.14" y="129.52" width="15.96" height="6.67" fill="#3d0689"/>
<rect x="545.10" y="129.52" width="15.96" height="6.67" fill="#3d0689"/>
<rect x="561.06" y="129.52" width="15.96" height="6.67" fill="#3d0689"/>
<rect x="577.02" y="129.52" width="15.96" height="6.67" fill="#3d0689"/>
<rect x="592.98" y="129.52" width="15.96" height="6.67" fill="#3d0689"/>
<rect x="608.94" y="129.52" width="15.96" height="6.67" fill="#3d0689"/>
<rect x="624.90" y="129.52" width="15.96" height="6.67" fill="#f5f4fa"/>
<rect x="640.86" y="129.52" width="15.96" height="6.67" fill="#3d0689"/>
<rect x="656.82" y="129.52" width="15.96" height="6.67" fill="#3d0689"/>
<rect x="672.78" y="129.52" width="15.96" height="6.67" fill="#3d0689"/>
<rect x="688.74" y="129.52" width="15.96" height="6.67" fill="#3d0689"/>
<rect x="385.50" y="136.19" width="15.96" height="6.67" fill="#bfc0dd"/>
<rect x="417.42" y="136.19" width="15.96" height="6.67" fill="#3d0689"/>
<rect x="433.38" y="136.19" width="15.96" height="6.67" fill="#3d0689"/>
<rect x="449.34" y="136.19" width="15.96" height="6.67" fill="#3d0689"/>
<rect x="481.26" y="136.19" width="15.96" height="6.67" fill="#3d0689"/>
<rect x="497.22" y="136.19" width="15.96" height="6.67" fill="#3d0689"/>
<rect x="513.18" y="136.19" width="15.96" height="6.67" fill="#3d0689"/>
<rect x="529.14" y="136.19" width="15.96" height="6.67" fill="#3d0689"/>
<rect x="545.10" y="136.19" width="15.96" height="6.67" fill="#3d0689"/>
<rect x="561.06" y="136.19" width="15.96" height="6.67" fill="#3d0689"/>
<rect x="577.02" y="136.19" width="15.96" height="6.67" fill="#3d0689"/>
<rect x="592.98" y="136.19" width="15.96" height="6.67" fill="#3d0689"/>
<rect x="608.94" y="136.19" width="15.96" height="6.67" fill="#3d0689"/>
<rect x="624.90" y="136.19" width="15.96" height="6.67" fill="#3d0689"/>
<rect x="640.86" y="136.19" width="15.96" height="6.67" fill="#3d0689"/>
<rect x="656.82" y="136.19" width="15.96" height="6.67" fill="#3d0689"/>
<rect x="672.78" y="136.19" width="15.96" height="6.67" fill="#3d0689"/>
<rect x="688.74" y="136.19" width="15.96" height="6.67" fill="#3d0689"/>
<rect x="385.50" y="142.86" width="15.96" height="6.67" fill="#3d0689"/>
<rect x="401.46" y="142.86" width="15.96" height="6.67" fill="#3d0689"/>
<rect x="417.42" y="142.86" width="15.96" height="6.67" fill="#edebf5"/>
<rect x="433.38" y="142.86" width="15.96" height="6.67" fill="#3d0689"/>
<rect x="481.26" y="142.86" width="15.96" height="6.67" fill="#3d0689"/>
<rect x="497.22" y="142.86" width="15.96" height="6.67" fill="#3d0689"/>
<rect x="513.18" y="142.86" width="15.96" height="6.67" fill="#3d0689"/>
<rect x="529.14" y="142.86" width="15.96" height="6.67" fill="#63449d"/>
<rect x="545.10" y="142.86" width="15.96" height="6.67" fill="#5b3596"/>
<rect x="561.06" y="142.86" width="15.96" height="6.67" fill="#3d0689"/>
<rect x="577.02" y="142.86" width="15.96" height="6.67" fill="#3d0689"/>
<rect x="592.98" y="142.86" width="15.96" height="6.67" fill="#3d0689"/>
<rect x="608.94" y="142.86" width="15.96" height="6.67" fill="#4c1c8d"/>
<rect x="624.90" y="142.86" width="15.96" height="6.67" fill="#cbcce3"/>
<rect x="656.82" y="142.86" width="15.96" height="6.67" fill="#3d0689"/>
<rect x="672.78" y="142.86" width="15.96" height="6.67" fill="#bfc0dd"/>
<rect x="449.34" y="149.53" width="15.96" height="6.67" fill="#3d0689"/>
<rect x="481.26" y="149.53" width="15.96" height="6.67" fill="#3d0689"/>
<rect x="497.22" y="149.53" width="15.96" height="6.67" fill="#3d0689"/>
<rect x="513.18" y="149.53" width="15.96" height="6.67" fill="#3d0689"/>
<rect x="529.14" y="149.53" width="15.96" height="6.67" fill="#54278f"/>
<rect x="545.10" y="149.53" width="15.96" height="6.67" fill="#4c1c8d"/>
<rect x="561.06" y="149.53" width="15.96" height="6.67" fill="#3d0689"/>
<rect x="577.02" y="149.53" width="15.96" height="6.67" fill="#3d0689"/>
<rect x="592.98" y="149.53" width="15.96" height="6.67" fill="#3d0689"/>
<rect x="624.90" y="149.53" width="15.96" height="6.67" fill="#3d0689"/>
<rect x="640.86" y="149.53" width="15.96" height="6.67" fill="#3d0689"/>
<rect x="656.82" y="149.53" width="15.96" height="6.67" fill="#3d0689"/>
<rect x="672.78" y="149.53" width="15.96" height="6.67" fill="#3d0689"/>
<rect x="688.74" y="149.53" width="15.96" height="6.67" fill="#3d0689"/>
<rect x="417.42" y="156.20" width="15.96" height="6.67" fill="#3d0689"/>
<rect x="433.38" y="156.20" width="15.96" height="6.67" fill="#e8e7f3"/>
<rect x="449.34" y="156.20" width="15.96" height="6.67" fill="#cbcce3"/>
<rect x="481.26" y="156.20" width="15.96" height="6.67" fill="#e3e2ef"/>
<rect x="497.22" y="156.20" width="15.96" height="6.67" fill="#3d0689"/>
<rect x="513.18" y="156.20" width="15.96" height="6.67" fill="#3d0689"/>
<rect x="529.14" y="156.20" width="15.96" height="6.67" fill="#5b3596"/>
<rect x="545.10" y="156.20" width="15.96" height="6.67" fill="#a5a2cd"/>
<rect x="561.06" y="156.20" width="15.96" height="6.67" fill="#3d0689"/>
<rect x="577.02" y="156.20" width="15.96" height="6.67" fill="#3d0689"/>
<rect x="592.98" y="156.20" width="15.96" height="6.67" fill="#3d0689"/>
<rect x="624.90" y="156.20" width="15.96" height="6.67" fill="#a5a2cd"/>
<rect x="656.82" y="156.20" width="15.96" height="6.67" fill="#3d0689"/>
<rect x="688.74" y="156.20" width="15.96" height="6.67" fill="#a5a2cd"/>
<rect x="449.34" y="162.87" width="15.96" height="6.67" fill="#3d0689"/>
<rect x="481.26" y="162.87" width="15.96" height="6.67" fill="#3d0689"/>
<rect x="497.22" y="162.87" width="15.96" height="6.67" fill="#3d0689"/>
<rect x="513.18" y="162.87" width="15.96" height="6.67" fill="#cbcce3"/>
<rect x="561.06" y="162.87" width="15.96" height="6.67" fill="#3d0689"/>
<rect x="577.02" y="162.87" width="15.96" height="6.67" fill="#3d0689"/>
<rect x="592.98" y="162.87" width="15.96" height="6.67" fill="#3d0689"/>
<rect x="656.82" y="162.87" width="15.96" height="6.67" fill="#3d0689"/>
<path d="M385.50 89.50H704.70M385.50 96.17H704.70M385.50 102.84H704.70M385.50 109.51H704.70M385.50 116.18H704.70M385.50 122.85H704.70M385.50 129.52H704.70M385.50 136.19H704.70M385.50 142.86H704.70M385.50 149.53H704.70M385.50 156.20H704.70M385.50 162.87H704.70M385.50 169.54H704.70" stroke="#a4a4a4" stroke-width="0.75" fill="none"/>
<path d="M401.46 89.50V169.54M417.42 89.50V169.54M433.38 89.50V169.54M449.34 89.50V169.54M465.30 89.50V169.54M481.26 89.50V169.54M497.22 89.50V169.54M513.18 89.50V169.54M529.14 89.50V169.54M545.10 89.50V169.54M561.06 89.50V169.54M577.02 89.50V169.54M592.98 89.50V169.54M608.94 89.50V169.54M624.90 89.50V169.54M640.86 89.50V169.54M656.82 89.50V169.54M672.78 89.50V169.54M688.74 89.50V169.54M704.70 89.50V169.54" stroke="#808080" stroke-width="0.62" fill="none"/>
<path d="M385.50 89.50V169.54" stroke="#c4c4c4" stroke-width="0.8" fill="none"/>
<path d="M497.22 89.50h15.96v6.67h-15.96zM513.18 89.50h15.96v6.67h-15.96zM577.02 89.50h15.96v6.67h-15.96zM592.98 89.50h15.96v6.67h-15.96zM656.82 89.50h15.96v6.67h-15.96zM401.46 96.17h15.96v6.67h-15.96zM449.34 96.17h15.96v6.67h-15.96zM465.30 96.17h15.96v6.67h-15.96zM497.22 96.17h15.96v6.67h-15.96zM513.18 96.17h15.96v6.67h-15.96zM561.06 96.17h15.96v6.67h-15.96zM577.02 96.17h15.96v6.67h-15.96zM592.98 96.17h15.96v6.67h-15.96zM656.82 96.17h15.96v6.67h-15.96zM465.30 102.84h15.96v6.67h-15.96zM577.02 102.84h15.96v6.67h-15.96zM449.34 109.51h15.96v6.67h-15.96zM481.26 109.51h15.96v6.67h-15.96zM497.22 109.51h15.96v6.67h-15.96zM513.18 109.51h15.96v6.67h-15.96zM529.14 109.51h15.96v6.67h-15.96zM561.06 109.51h15.96v6.67h-15.96zM577.02 109.51h15.96v6.67h-15.96zM592.98 109.51h15.96v6.67h-15.96zM608.94 109.51h15.96v6.67h-15.96zM640.86 109.51h15.96v6.67h-15.96zM656.82 109.51h15.96v6.67h-15.96zM688.74 109.51h15.96v6.67h-15.96zM449.34 116.18h15.96v6.67h-15.96zM481.26 116.18h15.96v6.67h-15.96zM497.22 116.18h15.96v6.67h-15.96zM513.18 116.18h15.96v6.67h-15.96zM529.14 116.18h15.96v6.67h-15.96zM545.10 116.18h15.96v6.67h-15.96zM561.06 116.18h15.96v6.67h-15.96zM577.02 116.18h15.96v6.67h-15.96zM592.98 116.18h15.96v6.67h-15.96zM608.94 116.18h15.96v6.67h-15.96zM624.90 116.18h15.96v6.67h-15.96zM640.86 116.18h15.96v6.67h-15.96zM656.82 116.18h15.96v6.67h-15.96zM672.78 116.18h15.96v6.67h-15.96zM688.74 116.18h15.96v6.67h-15.96zM449.34 122.85h15.96v6.67h-15.96zM481.26 122.85h15.96v6.67h-15.96zM497.22 122.85h15.96v6.67h-15.96zM513.18 122.85h15.96v6.67h-15.96zM561.06 122.85h15.96v6.67h-15.96zM577.02 122.85h15.96v6.67h-15.96zM592.98 122.85h15.96v6.67h-15.96zM624.90 122.85h15.96v6.67h-15.96zM656.82 122.85h15.96v6.67h-15.96zM449.34 129.52h15.96v6.67h-15.96zM481.26 129.52h15.96v6.67h-15.96zM497.22 129.52h15.96v6.67h-15.96zM513.18 129.52h15.96v6.67h-15.96zM529.14 129.52h15.96v6.67h-15.96zM545.10 129.52h15.96v6.67h-15.96zM561.06 129.52h15.96v6.67h-15.96zM577.02 129.52h15.96v6.67h-15.96zM592.98 129.52h15.96v6.67h-15.96zM608.94 129.52h15.96v6.67h-15.96zM640.86 129.52h15.96v6.67h-15.96zM656.82 129.52h15.96v6.67h-15.96zM672.78 129.52h15.96v6.67h-15.96zM688.74 129.52h15.96v6.67h-15.96zM417.42 136.19h15.96v6.67h-15.96zM433.38 136.19h15.96v6.67h-15.96zM449.34 136.19h15.96v6.67h-15.96zM481.26 136.19h15.96v6.67h-15.96zM497.22 136.19h15.96v6.67h-15.96zM513.18 136.19h15.96v6.67h-15.96zM529.14 136.19h15.96v6.67h-15.96zM545.10 136.19h15.96v6.67h-15.96zM561.06 136.19h15.96v6.67h-15.96zM577.02 136.19h15.96v6.67h-15.96zM592.98 136.19h15.96v6.67h-15.96zM608.94 136.19h15.96v6.67h-15.96zM624.90 136.19h15.96v6.67h-15.96zM640.86 136.19h15.96v6.67h-15.96zM656.82 136.19h15.96v6.67h-15.96zM672.78 136.19h15.96v6.67h-15.96zM688.74 136.19h15.96v6.67h-15.96zM385.50 142.86h15.96v6.67h-15.96zM401.46 142.86h15.96v6.67h-15.96zM433.38 142.86h15.96v6.67h-15.96zM481.26 142.86h15.96v6.67h-15.96zM497.22 142.86h15.96v6.67h-15.96zM513.18 142.86h15.96v6.67h-15.96zM529.14 142.86h15.96v6.67h-15.96zM545.10 142.86h15.96v6.67h-15.96zM561.06 142.86h15.96v6.67h-15.96zM577.02 142.86h15.96v6.67h-15.96zM592.98 142.86h15.96v6.67h-15.96zM608.94 142.86h15.96v6.67h-15.96zM656.82 142.86h15.96v6.67h-15.96zM449.34 149.53h15.96v6.67h-15.96zM481.26 149.53h15.96v6.67h-15.96zM497.22 149.53h15.96v6.67h-15.96zM513.18 149.53h15.96v6.67h-15.96zM529.14 149.53h15.96v6.67h-15.96zM545.10 149.53h15.96v6.67h-15.96zM561.06 149.53h15.96v6.67h-15.96zM577.02 149.53h15.96v6.67h-15.96zM592.98 149.53h15.96v6.67h-15.96zM624.90 149.53h15.96v6.67h-15.96zM640.86 149.53h15.96v6.67h-15.96zM656.82 149.53h15.96v6.67h-15.96zM672.78 149.53h15.96v6.67h-15.96zM688.74 149.53h15.96v6.67h-15.96zM417.42 156.20h15.96v6.67h-15.96zM497.22 156.20h15.96v6.67h-15.96zM513.18 156.20h15.96v6.67h-15.96zM529.14 156.20h15.96v6.67h-15.96zM561.06 156.20h15.96v6.67h-15.96zM577.02 156.20h15.96v6.67h-15.96zM592.98 156.20h15.96v6.67h-15.96zM656.82 156.20h15.96v6.67h-15.96zM449.34 162.87h15.96v6.67h-15.96zM481.26 162.87h15.96v6.67h-15.96zM497.22 162.87h15.96v6.67h-15.96zM561.06 162.87h15.96v6.67h-15.96zM577.02 162.87h15.96v6.67h-15.96zM592.98 162.87h15.96v6.67h-15.96zM656.82 162.87h15.96v6.67h-15.96z" stroke="#a684d8" stroke-opacity="0.42" stroke-width="0.75" fill="none"/>
<rect x="432.94" y="183.20" width="15.98" height="5.30" fill="#a6cee3"/>
<rect x="496.86" y="183.20" width="15.98" height="5.30" fill="#2177b5"/>
<rect x="528.82" y="183.20" width="15.98" height="5.30" fill="#b2df8a"/>
<rect x="560.78" y="183.20" width="15.98" height="5.30" fill="#b2df8a"/>
<rect x="576.76" y="183.20" width="15.98" height="5.30" fill="#b2df8a"/>
<rect x="608.72" y="183.20" width="15.98" height="5.30" fill="#33a02c"/>
<rect x="656.66" y="183.20" width="15.98" height="5.30" fill="#33a02c"/>
<rect x="672.64" y="183.20" width="15.98" height="5.30" fill="#fb9a99"/>
<rect x="688.62" y="183.20" width="15.98" height="5.30" fill="#fb9a99"/>
<rect x="480.88" y="189.40" width="15.98" height="5.30" fill="#2177b5"/>
<rect x="560.78" y="189.40" width="15.98" height="5.30" fill="#b2df8a"/>
<rect x="592.74" y="189.40" width="15.98" height="5.30" fill="#b2df8a"/>
<rect x="624.70" y="189.40" width="15.98" height="5.30" fill="#33a02c"/>
<rect x="640.68" y="189.40" width="15.98" height="5.30" fill="#33a02c"/>
<rect x="656.66" y="189.40" width="15.98" height="5.30" fill="#33a02c"/>
<rect x="672.64" y="189.40" width="15.98" height="5.30" fill="#fb9a99"/>
<rect x="688.62" y="189.40" width="15.98" height="5.30" fill="#fb9a99"/>
<rect x="512.84" y="195.60" width="15.98" height="5.30" fill="#2177b5"/>
<rect x="544.80" y="195.60" width="15.98" height="5.30" fill="#b2df8a"/>
<rect x="576.76" y="195.60" width="15.98" height="5.30" fill="#b2df8a"/>
<rect x="592.74" y="195.60" width="15.98" height="5.30" fill="#b2df8a"/>
<rect x="608.72" y="195.60" width="15.98" height="5.30" fill="#33a02c"/>
<rect x="624.70" y="195.60" width="15.98" height="5.30" fill="#33a02c"/>
<rect x="640.68" y="195.60" width="15.98" height="5.30" fill="#33a02c"/>
<rect x="656.66" y="195.60" width="15.98" height="5.30" fill="#33a02c"/>
<rect x="672.64" y="195.60" width="15.98" height="5.30" fill="#fb9a99"/>
<rect x="688.62" y="195.60" width="15.98" height="5.30" fill="#fb9a99"/>
<rect x="400.98" y="201.80" width="15.98" height="5.30" fill="#a6cee3"/>
<rect x="464.90" y="201.80" width="15.98" height="5.30" fill="#2177b5"/>
<rect x="528.82" y="201.80" width="15.98" height="5.30" fill="#b2df8a"/>
<rect x="544.80" y="201.80" width="15.98" height="5.30" fill="#b2df8a"/>
<rect x="608.72" y="201.80" width="15.98" height="5.30" fill="#33a02c"/>
<rect x="640.68" y="201.80" width="15.98" height="5.30" fill="#33a02c"/>
<rect x="672.64" y="201.80" width="15.98" height="5.30" fill="#fb9a99"/>
<rect x="416.96" y="208.00" width="15.98" height="5.30" fill="#a6cee3"/>
<rect x="464.90" y="208.00" width="15.98" height="5.30" fill="#2177b5"/>
<rect x="448.92" y="214.20" width="15.98" height="5.30" fill="#a6cee3"/>
<rect x="480.88" y="214.20" width="15.98" height="5.30" fill="#2177b5"/>
<rect x="496.86" y="214.20" width="15.98" height="5.30" fill="#2177b5"/>
<rect x="512.84" y="214.20" width="15.98" height="5.30" fill="#2177b5"/>
<rect x="528.82" y="214.20" width="15.98" height="5.30" fill="#b2df8a"/>
<rect x="544.80" y="214.20" width="15.98" height="5.30" fill="#b2df8a"/>
<rect x="560.78" y="214.20" width="15.98" height="5.30" fill="#b2df8a"/>
<rect x="576.76" y="214.20" width="15.98" height="5.30" fill="#b2df8a"/>
<rect x="592.74" y="214.20" width="15.98" height="5.30" fill="#b2df8a"/>
<rect x="608.72" y="214.20" width="15.98" height="5.30" fill="#33a02c"/>
<rect x="624.70" y="214.20" width="15.98" height="5.30" fill="#33a02c"/>
<rect x="640.68" y="214.20" width="15.98" height="5.30" fill="#33a02c"/>
<rect x="656.66" y="214.20" width="15.98" height="5.30" fill="#33a02c"/>
<rect x="672.64" y="214.20" width="15.98" height="5.30" fill="#fb9a99"/>
<rect x="688.62" y="214.20" width="15.98" height="5.30" fill="#fb9a99"/>
<rect x="385.00" y="220.40" width="15.98" height="5.30" fill="#a6cee3"/>
<rect x="624.70" y="220.40" width="15.98" height="5.30" fill="#33a02c"/>
<rect x="688.62" y="220.40" width="15.98" height="5.30" fill="#fb9a99"/>
<path d="M385.00 183.20H704.60M385.00 188.50H704.60M385.00 189.40H704.60M385.00 194.70H704.60M385.00 195.60H704.60M385.00 200.90H704.60M385.00 201.80H704.60M385.00 207.10H704.60M385.00 208.00H704.60M385.00 213.30H704.60M385.00 214.20H704.60M385.00 219.50H704.60M385.00 220.40H704.60M385.00 225.70H704.60" stroke="#b4b4b4" stroke-width="0.7" fill="none"/>
<path d="M385.00 183.20V188.50M400.98 183.20V188.50M416.96 183.20V188.50M432.94 183.20V188.50M448.92 183.20V188.50M464.90 183.20V188.50M480.88 183.20V188.50M496.86 183.20V188.50M512.84 183.20V188.50M528.82 183.20V188.50M544.80 183.20V188.50M560.78 183.20V188.50M576.76 183.20V188.50M592.74 183.20V188.50M608.72 183.20V188.50M624.70 183.20V188.50M640.68 183.20V188.50M656.66 183.20V188.50M672.64 183.20V188.50M688.62 183.20V188.50M704.60 183.20V188.50M385.00 189.40V194.70M400.98 189.40V194.70M416.96 189.40V194.70M432.94 189.40V194.70M448.92 189.40V194.70M464.90 189.40V194.70M480.88 189.40V194.70M496.86 189.40V194.70M512.84 189.40V194.70M528.82 189.40V194.70M544.80 189.40V194.70M560.78 189.40V194.70M576.76 189.40V194.70M592.74 189.40V194.70M608.72 189.40V194.70M624.70 189.40V194.70M640.68 189.40V194.70M656.66 189.40V194.70M672.64 189.40V194.70M688.62 189.40V194.70M704.60 189.40V194.70M385.00 195.60V200.90M400.98 195.60V200.90M416.96 195.60V200.90M432.94 195.60V200.90M448.92 195.60V200.90M464.90 195.60V200.90M480.88 195.60V200.90M496.86 195.60V200.90M512.84 195.60V200.90M528.82 195.60V200.90M544.80 195.60V200.90M560.78 195.60V200.90M576.76 195.60V200.90M592.74 195.60V200.90M608.72 195.60V200.90M624.70 195.60V200.90M640.68 195.60V200.90M656.66 195.60V200.90M672.64 195.60V200.90M688.62 195.60V200.90M704.60 195.60V200.90M385.00 201.80V207.10M400.98 201.80V207.10M416.96 201.80V207.10M432.94 201.80V207.10M448.92 201.80V207.10M464.90 201.80V207.10M480.88 201.80V207.10M496.86 201.80V207.10M512.84 201.80V207.10M528.82 201.80V207.10M544.80 201.80V207.10M560.78 201.80V207.10M576.76 201.80V207.10M592.74 201.80V207.10M608.72 201.80V207.10M624.70 201.80V207.10M640.68 201.80V207.10M656.66 201.80V207.10M672.64 201.80V207.10M688.62 201.80V207.10M704.60 201.80V207.10M385.00 208.00V213.30M400.98 208.00V213.30M416.96 208.00V213.30M432.94 208.00V213.30M448.92 208.00V213.30M464.90 208.00V213.30M480.88 208.00V213.30M496.86 208.00V213.30M512.84 208.00V213.30M528.82 208.00V213.30M544.80 208.00V213.30M560.78 208.00V213.30M576.76 208.00V213.30M592.74 208.00V213.30M608.72 208.00V213.30M624.70 208.00V213.30M640.68 208.00V213.30M656.66 208.00V213.30M672.64 208.00V213.30M688.62 208.00V213.30M704.60 208.00V213.30M385.00 214.20V219.50M400.98 214.20V219.50M416.96 214.20V219.50M432.94 214.20V219.50M448.92 214.20V219.50M464.90 214.20V219.50M480.88 214.20V219.50M496.86 214.20V219.50M512.84 214.20V219.50M528.82 214.20V219.50M544.80 214.20V219.50M560.78 214.20V219.50M576.76 214.20V219.50M592.74 214.20V219.50M608.72 214.20V219.50M624.70 214.20V219.50M640.68 214.20V219.50M656.66 214.20V219.50M672.64 214.20V219.50M688.62 214.20V219.50M704.60 214.20V219.50M385.00 220.40V225.70M400.98 220.40V225.70M416.96 220.40V225.70M432.94 220.40V225.70M448.92 220.40V225.70M464.90 220.40V225.70M480.88 220.40V225.70M496.86 220.40V225.70M512.84 220.40V225.70M528.82 220.40V225.70M544.80 220.40V225.70M560.78 220.40V225.70M576.76 220.40V225.70M592.74 220.40V225.70M608.72 220.40V225.70M624.70 220.40V225.70M640.68 220.40V225.70M656.66 220.40V225.70M672.64 220.40V225.70M688.62 220.40V225.70M704.60 220.40V225.70" stroke="#9c9c9c" stroke-opacity="0.75" stroke-width="0.7" fill="none"/>
<defs><linearGradient id="cb" x1="0" y1="1" x2="0" y2="0">
<stop offset="0.000" stop-color="#ffffff"/>
<stop offset="0.125" stop-color="#f1eff7"/>
<stop offset="0.250" stop-color="#dcdcec"/>
<stop offset="0.375" stop-color="#bebfdd"/>
<stop offset="0.500" stop-color="#9e9ac8"/>
<stop offset="0.625" stop-color="#807dba"/>
<stop offset="0.750" stop-color="#6a51a3"/>
<stop offset="0.875" stop-color="#54278f"/>
<stop offset="1.000" stop-color="#3d0689"/>
</linearGradient></defs>
<rect x="717" y="11" width="5.5" height="80" fill="url(#cb)"/>
<text x="724" y="12.8" font-size="5.2" fill="#222" font-family='"Liberation Sans", sans-serif'>1</text>
<text x="724" y="29.3" font-size="5.2" fill="#222" font-family='"Liberation Sans", sans-serif'>0.8</text>
<text x="724" y="45.3" font-size="5.2" fill="#222" font-family='"Liberation Sans", sans-serif'>0.6</text>
<text x="724" y="61.3" font-size="5.2" fill="#222" font-family='"Liberation Sans", sans-serif'>0.4</text>
<text x="724" y="77.3" font-size="5.2" fill="#222" font-family='"Liberation Sans", sans-serif'>0.2</text>
<text x="724" y="92.8" font-size="5.2" fill="#222" font-family='"Liberation Sans", sans-serif'>0</text>
<text transform="translate(3.00 11.90) scale(0.900 1)" font-size="15.7" font-weight="bold" fill="#000" stroke="#000" stroke-width="0.45" stroke-linejoin="round" font-family='"Liberation Sans", sans-serif'>A</text>
<text transform="translate(352.20 12.10) scale(0.910 1)" font-size="16.0" font-weight="bold" fill="#000" font-family='"Liberation Sans", sans-serif'>B</text>
<text transform="translate(1.90 270.00) scale(1.000 1)" font-size="16" font-weight="bold" fill="#000" font-family='"Liberation Sans", sans-serif'>C</text>
<text transform="translate(257.20 269.90) scale(1.000 1)" font-size="15.8" font-weight="bold" fill="#000" font-family='"Liberation Sans", sans-serif'>D</text>
<text transform="translate(17.90 90.20) rotate(-90) scale(0.950 1)" font-size="13.6" font-weight="bold" text-anchor="middle" fill="#000" font-family='"Liberation Sans", sans-serif'>Infants</text>
<text transform="translate(32.40 46.90) rotate(-90) scale(0.955 1)" font-size="13.2" font-weight="normal" text-anchor="middle" fill="#000" font-family='"Liberation Sans", sans-serif'>Pre-Vaccine</text>
<text transform="translate(32.40 135.30) rotate(-90) scale(0.965 1)" font-size="13.2" font-weight="normal" text-anchor="middle" fill="#000" font-family='"Liberation Sans", sans-serif'>Post-Vaccine</text>
<text transform="translate(370.90 90.00) rotate(-90) scale(0.875 1)" font-size="14.2" font-weight="bold" text-anchor="middle" fill="#000" font-family='"Liberation Sans", sans-serif'>Adults</text>
<text transform="translate(383.50 46.90) rotate(-90) scale(0.955 1)" font-size="13.2" font-weight="normal" text-anchor="middle" fill="#000" font-family='"Liberation Sans", sans-serif'>Pre-Vaccine</text>
<text transform="translate(383.50 135.50) rotate(-90) scale(0.950 1)" font-size="13.2" font-weight="normal" text-anchor="middle" fill="#000" font-family='"Liberation Sans", sans-serif'>Post-Vaccine</text>
<text transform="translate(1.70 189.50) scale(0.885 1)" font-size="7" fill="#151515" font-family='"Liberation Sans", sans-serif'>IFN.γ</text>
<text transform="translate(353.30 188.40) scale(0.910 1)" font-size="7" fill="#151515" font-family='"Liberation Sans", sans-serif'>IFN.γ</text>
<text transform="translate(1.70 195.10) scale(0.885 1)" font-size="7" fill="#151515" font-family='"Liberation Sans", sans-serif'>TNFa</text>
<text transform="translate(353.30 194.00) scale(0.910 1)" font-size="7" fill="#151515" font-family='"Liberation Sans", sans-serif'>TNFa</text>
<text transform="translate(1.70 201.00) scale(0.885 1)" font-size="7" fill="#151515" font-family='"Liberation Sans", sans-serif'>IL.2</text>
<text transform="translate(353.30 199.90) scale(0.910 1)" font-size="7" fill="#151515" font-family='"Liberation Sans", sans-serif'>IL.2</text>
<text transform="translate(1.70 207.10) scale(0.885 1)" font-size="7" fill="#151515" font-family='"Liberation Sans", sans-serif'>IL.4.5.13</text>
<text transform="translate(353.30 206.00) scale(0.910 1)" font-size="7" fill="#151515" font-family='"Liberation Sans", sans-serif'>IL.4.5.13</text>
<text transform="translate(1.70 213.40) scale(0.885 1)" font-size="7" fill="#151515" font-family='"Liberation Sans", sans-serif'>IL.17a</text>
<text transform="translate(353.30 212.30) scale(0.910 1)" font-size="7" fill="#151515" font-family='"Liberation Sans", sans-serif'>IL.17a</text>
<text transform="translate(1.70 220.10) scale(0.885 1)" font-size="7" fill="#151515" font-family='"Liberation Sans", sans-serif'>CD154</text>
<text transform="translate(353.30 219.00) scale(0.910 1)" font-size="7" fill="#151515" font-family='"Liberation Sans", sans-serif'>CD154</text>
<text transform="translate(1.70 226.00) scale(0.885 1)" font-size="7" fill="#151515" font-family='"Liberation Sans", sans-serif'>CD107a</text>
<text transform="translate(353.30 224.90) scale(0.910 1)" font-size="7" fill="#151515" font-family='"Liberation Sans", sans-serif'>CD107a</text>
<path d="M53.10 292.60V390.90H242.50" stroke="#000" stroke-width="1.5" fill="none"/>
<path d="M48.50 390.90H53.10" stroke="#000" stroke-width="1.25"/>
<text x="47.10" y="393.50" font-size="7.2" font-weight="bold" text-anchor="end" fill="#000" font-family='"Liberation Sans", sans-serif' letter-spacing="0.2">0.00</text>
<path d="M48.50 358.33H53.10" stroke="#000" stroke-width="1.25"/>
<text x="47.10" y="360.93" font-size="7.2" font-weight="bold" text-anchor="end" fill="#000" font-family='"Liberation Sans", sans-serif' letter-spacing="0.2">0.05</text>
<path d="M48.50 325.77H53.10" stroke="#000" stroke-width="1.25"/>
<text x="47.10" y="328.37" font-size="7.2" font-weight="bold" text-anchor="end" fill="#000" font-family='"Liberation Sans", sans-serif' letter-spacing="0.2">0.10</text>
<path d="M48.50 293.20H53.10" stroke="#000" stroke-width="1.25"/>
<text x="47.10" y="295.80" font-size="7.2" font-weight="bold" text-anchor="end" fill="#000" font-family='"Liberation Sans", sans-serif' letter-spacing="0.2">0.15</text>
<path d="M82.00 390.90V394.50" stroke="#000" stroke-width="1.25"/>
<text x="82.10" y="402.60" font-size="7.2" font-weight="bold" text-anchor="middle" fill="#000" font-family='"Liberation Sans", sans-serif' letter-spacing="0.2">PRE</text>
<text x="82.10" y="411.20" font-size="7.2" font-weight="bold" text-anchor="middle" fill="#000" font-family='"Liberation Sans", sans-serif' letter-spacing="0.2">Infants</text>
<path d="M125.20 390.90V394.50" stroke="#000" stroke-width="1.25"/>
<text x="125.30" y="402.60" font-size="7.2" font-weight="bold" text-anchor="middle" fill="#000" font-family='"Liberation Sans", sans-serif' letter-spacing="0.2">POST</text>
<text x="125.30" y="411.20" font-size="7.2" font-weight="bold" text-anchor="middle" fill="#000" font-family='"Liberation Sans", sans-serif' letter-spacing="0.2">Infants</text>
<path d="M168.40 390.90V394.50" stroke="#000" stroke-width="1.25"/>
<text x="168.50" y="402.60" font-size="7.2" font-weight="bold" text-anchor="middle" fill="#000" font-family='"Liberation Sans", sans-serif' letter-spacing="0.2">PRE</text>
<text x="168.50" y="411.20" font-size="7.2" font-weight="bold" text-anchor="middle" fill="#000" font-family='"Liberation Sans", sans-serif' letter-spacing="0.2">Adults</text>
<path d="M211.80 390.90V394.50" stroke="#000" stroke-width="1.25"/>
<text x="211.90" y="402.60" font-size="7.2" font-weight="bold" text-anchor="middle" fill="#000" font-family='"Liberation Sans", sans-serif' letter-spacing="0.2">POST</text>
<text x="211.90" y="411.20" font-size="7.2" font-weight="bold" text-anchor="middle" fill="#000" font-family='"Liberation Sans", sans-serif' letter-spacing="0.2">Adults</text>
<text x="28.50" y="342.05" font-size="7.4" font-weight="bold" text-anchor="middle" fill="#000" font-family='"Liberation Sans", sans-serif' transform="rotate(-90 28.50 342.05)" letter-spacing="0.3">CD4 FS</text>
<path d="M67.70 381.80H96.20" stroke="#000" stroke-width="1.05"/>
<circle cx="69.40" cy="375.00" r="2.25" fill="#000"/>
<circle cx="75.80" cy="378.00" r="2.25" fill="#000"/>
<circle cx="81.90" cy="380.10" r="2.25" fill="#000"/>
<circle cx="88.30" cy="377.20" r="2.25" fill="#000"/>
<circle cx="94.50" cy="378.70" r="2.25" fill="#000"/>
<circle cx="75.80" cy="384.00" r="2.25" fill="#000"/>
<circle cx="88.30" cy="383.10" r="2.25" fill="#000"/>
<circle cx="94.60" cy="383.60" r="2.25" fill="#000"/>
<circle cx="69.40" cy="380.40" r="2.25" fill="#000"/>
<circle cx="81.90" cy="386.80" r="2.25" fill="#000"/>
<circle cx="88.30" cy="388.20" r="2.25" fill="#000"/>
<circle cx="75.80" cy="389.40" r="2.25" fill="#000"/>
<path d="M111.30 369.00H139.80" stroke="#000" stroke-width="1.05"/>
<circle cx="125.30" cy="317.80" r="2.25" fill="#000"/>
<circle cx="113.00" cy="345.10" r="2.25" fill="#000"/>
<circle cx="121.30" cy="346.70" r="2.25" fill="#000"/>
<circle cx="129.40" cy="348.00" r="2.25" fill="#000"/>
<circle cx="113.00" cy="365.00" r="2.25" fill="#000"/>
<circle cx="121.30" cy="364.60" r="2.25" fill="#000"/>
<circle cx="121.30" cy="369.00" r="2.25" fill="#000"/>
<circle cx="113.00" cy="377.10" r="2.25" fill="#000"/>
<circle cx="121.30" cy="379.20" r="2.25" fill="#000"/>
<circle cx="129.40" cy="377.90" r="2.25" fill="#000"/>
<circle cx="137.90" cy="375.40" r="2.25" fill="#000"/>
<circle cx="137.90" cy="379.60" r="2.25" fill="#000"/>
<circle cx="125.30" cy="384.20" r="2.25" fill="#000"/>
<path d="M154.40 382.90H182.70" stroke="#000" stroke-width="1.05"/>
<circle cx="172.60" cy="370.30" r="2.25" fill="#000"/>
<circle cx="168.40" cy="372.30" r="2.25" fill="#000"/>
<circle cx="160.60" cy="378.40" r="2.25" fill="#000"/>
<circle cx="177.20" cy="377.40" r="2.25" fill="#000"/>
<circle cx="156.30" cy="381.40" r="2.25" fill="#000"/>
<circle cx="177.20" cy="381.40" r="2.25" fill="#000"/>
<circle cx="160.60" cy="383.90" r="2.25" fill="#000"/>
<circle cx="164.60" cy="383.40" r="2.25" fill="#000"/>
<circle cx="168.40" cy="383.90" r="2.25" fill="#000"/>
<circle cx="172.60" cy="383.90" r="2.25" fill="#000"/>
<circle cx="181.40" cy="382.90" r="2.25" fill="#000"/>
<circle cx="177.20" cy="386.40" r="2.25" fill="#000"/>
<path d="M197.30 333.10H225.90" stroke="#000" stroke-width="1.05"/>
<circle cx="212.10" cy="301.50" r="2.25" fill="#000"/>
<circle cx="212.10" cy="313.00" r="2.25" fill="#000"/>
<circle cx="204.00" cy="317.80" r="2.25" fill="#000"/>
<circle cx="219.60" cy="321.10" r="2.25" fill="#000"/>
<circle cx="212.10" cy="322.10" r="2.25" fill="#000"/>
<circle cx="212.10" cy="328.10" r="2.25" fill="#000"/>
<circle cx="204.00" cy="339.40" r="2.25" fill="#000"/>
<circle cx="219.60" cy="337.40" r="2.25" fill="#000"/>
<circle cx="212.10" cy="341.40" r="2.25" fill="#000"/>
<circle cx="212.10" cy="353.20" r="2.25" fill="#000"/>
<circle cx="212.10" cy="357.50" r="2.25" fill="#000"/>
<circle cx="212.10" cy="376.40" r="2.25" fill="#000"/>
<path d="M82.20 369.70V294.10H121.70V310.80" stroke="#000" stroke-width="1.35" fill="none"/>
<text x="102.00" y="294.40" font-size="13" font-weight="bold" text-anchor="middle" fill="#000" font-family='"Liberation Sans", sans-serif' letter-spacing="0.8">**</text>
<path d="M128.00 309.70V275.80H215.40V294.70" stroke="#000" stroke-width="1.35" fill="none"/>
<text x="172.00" y="275.20" font-size="13" font-weight="bold" text-anchor="middle" fill="#000" font-family='"Liberation Sans", sans-serif' letter-spacing="0.8">**</text>
<path d="M168.30 363.70V289.00H208.60V293.90" stroke="#000" stroke-width="1.35" fill="none"/>
<text x="177.40" y="289.00" font-size="13" font-weight="bold" text-anchor="middle" fill="#000" font-family='"Liberation Sans", sans-serif' letter-spacing="0.8">***</text>
<path d="M52.80 454.10V554.00H243.50" stroke="#000" stroke-width="1.5" fill="none"/>
<path d="M48.20 554.00H52.80" stroke="#000" stroke-width="1.25"/>
<text x="46.80" y="556.60" font-size="7.2" font-weight="bold" text-anchor="end" fill="#000" font-family='"Liberation Sans", sans-serif' letter-spacing="0.2">0.00</text>
<path d="M48.20 520.90H52.80" stroke="#000" stroke-width="1.25"/>
<text x="46.80" y="523.50" font-size="7.2" font-weight="bold" text-anchor="end" fill="#000" font-family='"Liberation Sans", sans-serif' letter-spacing="0.2">0.05</text>
<path d="M48.20 487.80H52.80" stroke="#000" stroke-width="1.25"/>
<text x="46.80" y="490.40" font-size="7.2" font-weight="bold" text-anchor="end" fill="#000" font-family='"Liberation Sans", sans-serif' letter-spacing="0.2">0.10</text>
<path d="M48.20 454.70H52.80" stroke="#000" stroke-width="1.25"/>
<text x="46.80" y="457.30" font-size="7.2" font-weight="bold" text-anchor="end" fill="#000" font-family='"Liberation Sans", sans-serif' letter-spacing="0.2">0.15</text>
<path d="M82.10 554.00V557.60" stroke="#000" stroke-width="1.25"/>
<text x="82.20" y="565.20" font-size="7.2" font-weight="bold" text-anchor="middle" fill="#000" font-family='"Liberation Sans", sans-serif' letter-spacing="0.2">PRE</text>
<text x="82.20" y="573.80" font-size="7.2" font-weight="bold" text-anchor="middle" fill="#000" font-family='"Liberation Sans", sans-serif' letter-spacing="0.2">Infants</text>
<path d="M126.00 554.00V557.60" stroke="#000" stroke-width="1.25"/>
<text x="126.10" y="565.20" font-size="7.2" font-weight="bold" text-anchor="middle" fill="#000" font-family='"Liberation Sans", sans-serif' letter-spacing="0.2">POST</text>
<text x="126.10" y="573.80" font-size="7.2" font-weight="bold" text-anchor="middle" fill="#000" font-family='"Liberation Sans", sans-serif' letter-spacing="0.2">Infants</text>
<path d="M169.80 554.00V557.60" stroke="#000" stroke-width="1.25"/>
<text x="169.90" y="565.20" font-size="7.2" font-weight="bold" text-anchor="middle" fill="#000" font-family='"Liberation Sans", sans-serif' letter-spacing="0.2">PRE</text>
<text x="169.90" y="573.80" font-size="7.2" font-weight="bold" text-anchor="middle" fill="#000" font-family='"Liberation Sans", sans-serif' letter-spacing="0.2">Adults</text>
<path d="M213.90 554.00V557.60" stroke="#000" stroke-width="1.25"/>
<text x="214.00" y="565.20" font-size="7.2" font-weight="bold" text-anchor="middle" fill="#000" font-family='"Liberation Sans", sans-serif' letter-spacing="0.2">POST</text>
<text x="214.00" y="573.80" font-size="7.2" font-weight="bold" text-anchor="middle" fill="#000" font-family='"Liberation Sans", sans-serif' letter-spacing="0.2">Adults</text>
<text x="28.50" y="504.35" font-size="7.4" font-weight="bold" text-anchor="middle" fill="#000" font-family='"Liberation Sans", sans-serif' transform="rotate(-90 28.50 504.35)" letter-spacing="0.3">CD4 PFS</text>
<path d="M68.00 549.30H96.80" stroke="#000" stroke-width="1.05"/>
<circle cx="69.50" cy="547.40" r="2.25" fill="#000"/>
<circle cx="69.50" cy="551.70" r="2.25" fill="#000"/>
<circle cx="73.80" cy="548.00" r="2.25" fill="#000"/>
<circle cx="78.10" cy="546.10" r="2.25" fill="#000"/>
<circle cx="78.10" cy="550.20" r="2.25" fill="#000"/>
<circle cx="82.10" cy="549.80" r="2.25" fill="#000"/>
<circle cx="86.40" cy="548.20" r="2.25" fill="#000"/>
<circle cx="86.40" cy="553.30" r="2.25" fill="#000"/>
<circle cx="90.80" cy="544.50" r="2.25" fill="#000"/>
<circle cx="90.80" cy="549.80" r="2.25" fill="#000"/>
<circle cx="95.10" cy="546.70" r="2.25" fill="#000"/>
<circle cx="95.10" cy="552.40" r="2.25" fill="#000"/>
<path d="M111.80 543.60H140.70" stroke="#000" stroke-width="1.05"/>
<circle cx="126.00" cy="514.10" r="2.25" fill="#000"/>
<circle cx="120.10" cy="530.70" r="2.25" fill="#000"/>
<circle cx="126.00" cy="530.30" r="2.25" fill="#000"/>
<circle cx="132.40" cy="532.60" r="2.25" fill="#000"/>
<circle cx="126.00" cy="536.20" r="2.25" fill="#000"/>
<circle cx="132.60" cy="540.60" r="2.25" fill="#000"/>
<circle cx="126.00" cy="543.20" r="2.25" fill="#000"/>
<circle cx="113.70" cy="548.10" r="2.25" fill="#000"/>
<circle cx="120.10" cy="547.60" r="2.25" fill="#000"/>
<circle cx="126.00" cy="548.10" r="2.25" fill="#000"/>
<circle cx="132.40" cy="547.60" r="2.25" fill="#000"/>
<circle cx="138.80" cy="548.10" r="2.25" fill="#000"/>
<circle cx="138.80" cy="550.90" r="2.25" fill="#000"/>
<path d="M155.50 550.00H184.00" stroke="#000" stroke-width="1.05"/>
<circle cx="168.30" cy="541.70" r="2.25" fill="#000"/>
<circle cx="171.80" cy="543.10" r="2.25" fill="#000"/>
<circle cx="164.50" cy="548.10" r="2.25" fill="#000"/>
<circle cx="168.30" cy="548.10" r="2.25" fill="#000"/>
<circle cx="175.40" cy="548.60" r="2.25" fill="#000"/>
<circle cx="157.40" cy="550.50" r="2.25" fill="#000"/>
<circle cx="160.90" cy="549.00" r="2.25" fill="#000"/>
<circle cx="171.80" cy="549.00" r="2.25" fill="#000"/>
<circle cx="179.00" cy="550.50" r="2.25" fill="#000"/>
<circle cx="182.50" cy="550.50" r="2.25" fill="#000"/>
<circle cx="170.00" cy="551.90" r="2.25" fill="#000"/>
<circle cx="175.40" cy="551.90" r="2.25" fill="#000"/>
<path d="M199.20 524.60H228.60" stroke="#000" stroke-width="1.05"/>
<circle cx="213.90" cy="503.70" r="2.25" fill="#000"/>
<circle cx="206.00" cy="510.30" r="2.25" fill="#000"/>
<circle cx="206.00" cy="515.10" r="2.25" fill="#000"/>
<circle cx="213.90" cy="514.10" r="2.25" fill="#000"/>
<circle cx="221.70" cy="519.10" r="2.25" fill="#000"/>
<circle cx="213.90" cy="522.40" r="2.25" fill="#000"/>
<circle cx="206.00" cy="527.60" r="2.25" fill="#000"/>
<circle cx="213.90" cy="528.60" r="2.25" fill="#000"/>
<circle cx="221.70" cy="528.10" r="2.25" fill="#000"/>
<circle cx="209.80" cy="536.40" r="2.25" fill="#000"/>
<circle cx="217.90" cy="537.40" r="2.25" fill="#000"/>
<circle cx="213.90" cy="547.60" r="2.25" fill="#000"/>
<path d="M82.10 540.50V471.50H120.50V509.60" stroke="#000" stroke-width="1.35" fill="none"/>
<text x="101.40" y="471.00" font-size="13" font-weight="bold" text-anchor="middle" fill="#000" font-family='"Liberation Sans", sans-serif' letter-spacing="0.8">**</text>
<path d="M126.00 508.40V472.60H217.90V498.90" stroke="#000" stroke-width="1.35" fill="none"/>
<text x="172.20" y="472.20" font-size="13" font-weight="bold" text-anchor="middle" fill="#000" font-family='"Liberation Sans", sans-serif' letter-spacing="0.8">**</text>
<path d="M169.50 526.70V487.00H209.80V500.60" stroke="#000" stroke-width="1.35" fill="none"/>
<text x="176.30" y="486.40" font-size="13" font-weight="bold" text-anchor="middle" fill="#000" font-family='"Liberation Sans", sans-serif' letter-spacing="0.8">***</text>
<path d="M313.20 292.20V391.00H499.60" stroke="#000" stroke-width="1.5" fill="none"/>
<path d="M308.60 391.00H313.20" stroke="#000" stroke-width="1.25"/>
<text x="307.90" y="393.60" font-size="7.2" font-weight="bold" text-anchor="end" fill="#000" font-family='"Liberation Sans", sans-serif' letter-spacing="0.2">0.00</text>
<path d="M308.60 358.27H313.20" stroke="#000" stroke-width="1.25"/>
<text x="307.90" y="360.87" font-size="7.2" font-weight="bold" text-anchor="end" fill="#000" font-family='"Liberation Sans", sans-serif' letter-spacing="0.2">0.05</text>
<path d="M308.60 325.53H313.20" stroke="#000" stroke-width="1.25"/>
<text x="307.90" y="328.13" font-size="7.2" font-weight="bold" text-anchor="end" fill="#000" font-family='"Liberation Sans", sans-serif' letter-spacing="0.2">0.10</text>
<path d="M308.60 292.80H313.20" stroke="#000" stroke-width="1.25"/>
<text x="307.90" y="295.40" font-size="7.2" font-weight="bold" text-anchor="end" fill="#000" font-family='"Liberation Sans", sans-serif' letter-spacing="0.2">0.15</text>
<path d="M342.20 391.00V394.60" stroke="#000" stroke-width="1.25"/>
<text x="341.40" y="402.70" font-size="7.2" font-weight="bold" text-anchor="middle" fill="#000" font-family='"Liberation Sans", sans-serif' letter-spacing="0.2">PRE</text>
<text x="341.40" y="411.30" font-size="7.2" font-weight="bold" text-anchor="middle" fill="#000" font-family='"Liberation Sans", sans-serif' letter-spacing="0.2">Pfizer</text>
<path d="M385.80 391.00V394.60" stroke="#000" stroke-width="1.25"/>
<text x="385.00" y="402.70" font-size="7.2" font-weight="bold" text-anchor="middle" fill="#000" font-family='"Liberation Sans", sans-serif' letter-spacing="0.2">POST</text>
<text x="385.00" y="411.30" font-size="7.2" font-weight="bold" text-anchor="middle" fill="#000" font-family='"Liberation Sans", sans-serif' letter-spacing="0.2">Pfizer</text>
<path d="M429.50 391.00V394.60" stroke="#000" stroke-width="1.25"/>
<text x="428.70" y="402.70" font-size="7.2" font-weight="bold" text-anchor="middle" fill="#000" font-family='"Liberation Sans", sans-serif' letter-spacing="0.2">PRE</text>
<text x="428.70" y="411.30" font-size="7.2" font-weight="bold" text-anchor="middle" fill="#000" font-family='"Liberation Sans", sans-serif' letter-spacing="0.2">Moderna</text>
<path d="M473.30 391.00V394.60" stroke="#000" stroke-width="1.25"/>
<text x="472.50" y="402.70" font-size="7.2" font-weight="bold" text-anchor="middle" fill="#000" font-family='"Liberation Sans", sans-serif' letter-spacing="0.2">POST</text>
<text x="472.50" y="411.30" font-size="7.2" font-weight="bold" text-anchor="middle" fill="#000" font-family='"Liberation Sans", sans-serif' letter-spacing="0.2">Moderna</text>
<text x="287.20" y="341.90" font-size="7.4" font-weight="bold" text-anchor="middle" fill="#000" font-family='"Liberation Sans", sans-serif' transform="rotate(-90 287.20 341.90)" letter-spacing="0.3">CD4 FS</text>
<path d="M328.50 383.80H356.50" stroke="#000" stroke-width="1.05"/>
<circle cx="329.80" cy="377.70" r="2.25" fill="#000"/>
<circle cx="338.20" cy="380.10" r="2.25" fill="#000"/>
<circle cx="329.80" cy="384.20" r="2.25" fill="#000"/>
<circle cx="346.50" cy="384.20" r="2.25" fill="#000"/>
<circle cx="355.00" cy="383.70" r="2.25" fill="#000"/>
<path d="M371.50 378.60H400.50" stroke="#000" stroke-width="1.05"/>
<circle cx="385.90" cy="365.00" r="2.25" fill="#000"/>
<circle cx="385.90" cy="375.40" r="2.25" fill="#000"/>
<circle cx="377.60" cy="377.70" r="2.25" fill="#000"/>
<circle cx="385.90" cy="379.70" r="2.25" fill="#000"/>
<circle cx="394.00" cy="379.70" r="2.25" fill="#000"/>
<circle cx="385.90" cy="384.60" r="2.25" fill="#000"/>
<path d="M415.10 379.70H443.90" stroke="#000" stroke-width="1.05"/>
<circle cx="437.60" cy="375.00" r="2.25" fill="#000"/>
<circle cx="421.60" cy="379.00" r="2.25" fill="#000"/>
<circle cx="429.50" cy="379.00" r="2.25" fill="#000"/>
<circle cx="437.60" cy="380.40" r="2.25" fill="#000"/>
<circle cx="425.50" cy="388.20" r="2.25" fill="#000"/>
<circle cx="433.60" cy="387.30" r="2.25" fill="#000"/>
<path d="M459.00 347.70H487.80" stroke="#000" stroke-width="1.05"/>
<circle cx="473.20" cy="317.70" r="2.25" fill="#000"/>
<circle cx="473.20" cy="344.80" r="2.25" fill="#000"/>
<circle cx="465.30" cy="347.30" r="2.25" fill="#000"/>
<circle cx="481.10" cy="348.60" r="2.25" fill="#000"/>
<circle cx="477.30" cy="365.50" r="2.25" fill="#000"/>
<circle cx="469.40" cy="369.10" r="2.25" fill="#000"/>
<path d="M342.20 374.70V351.50H382.70V359.00" stroke="#000" stroke-width="1.35" fill="none"/>
<text x="362.50" y="346.90" font-size="8.8" font-weight="normal" text-anchor="middle" fill="#222" font-family='"Liberation Sans", sans-serif'>ns</text>
<path d="M388.60 359.00V292.50H477.30V312.40" stroke="#000" stroke-width="1.35" fill="none"/>
<text x="433.70" y="292.70" font-size="13" font-weight="bold" text-anchor="middle" fill="#000" font-family='"Liberation Sans", sans-serif' letter-spacing="0.8">*</text>
<path d="M429.50 369.10V305.60H472.70V312.40" stroke="#000" stroke-width="1.35" fill="none"/>
<text x="451.80" y="305.80" font-size="13" font-weight="bold" text-anchor="middle" fill="#000" font-family='"Liberation Sans", sans-serif' letter-spacing="0.8">**</text>
<text x="394.60" y="263.00" font-size="13.3" font-weight="bold" text-anchor="middle" fill="#000" font-family='"Liberation Sans", sans-serif' letter-spacing="-0.12">Infants</text>
<path d="M538.20 290.90V390.80H728.60" stroke="#000" stroke-width="1.5" fill="none"/>
<path d="M533.60 390.80H538.20" stroke="#000" stroke-width="1.25"/>
<text x="533.40" y="393.40" font-size="7.2" font-weight="bold" text-anchor="end" fill="#000" font-family='"Liberation Sans", sans-serif' letter-spacing="0.2">0.00</text>
<path d="M533.60 357.70H538.20" stroke="#000" stroke-width="1.25"/>
<text x="533.40" y="360.30" font-size="7.2" font-weight="bold" text-anchor="end" fill="#000" font-family='"Liberation Sans", sans-serif' letter-spacing="0.2">0.05</text>
<path d="M533.60 324.60H538.20" stroke="#000" stroke-width="1.25"/>
<text x="533.40" y="327.20" font-size="7.2" font-weight="bold" text-anchor="end" fill="#000" font-family='"Liberation Sans", sans-serif' letter-spacing="0.2">0.10</text>
<path d="M533.60 291.50H538.20" stroke="#000" stroke-width="1.25"/>
<text x="533.40" y="294.10" font-size="7.2" font-weight="bold" text-anchor="end" fill="#000" font-family='"Liberation Sans", sans-serif' letter-spacing="0.2">0.15</text>
<path d="M567.40 390.80V394.40" stroke="#000" stroke-width="1.25"/>
<text x="566.60" y="402.20" font-size="7.2" font-weight="bold" text-anchor="middle" fill="#000" font-family='"Liberation Sans", sans-serif' letter-spacing="0.2">PRE</text>
<text x="566.60" y="410.80" font-size="7.2" font-weight="bold" text-anchor="middle" fill="#000" font-family='"Liberation Sans", sans-serif' letter-spacing="0.2">Pfizer</text>
<path d="M611.60 390.80V394.40" stroke="#000" stroke-width="1.25"/>
<text x="610.80" y="402.20" font-size="7.2" font-weight="bold" text-anchor="middle" fill="#000" font-family='"Liberation Sans", sans-serif' letter-spacing="0.2">POST</text>
<text x="610.80" y="410.80" font-size="7.2" font-weight="bold" text-anchor="middle" fill="#000" font-family='"Liberation Sans", sans-serif' letter-spacing="0.2">Pfizer</text>
<path d="M655.20 390.80V394.40" stroke="#000" stroke-width="1.25"/>
<text x="654.40" y="402.20" font-size="7.2" font-weight="bold" text-anchor="middle" fill="#000" font-family='"Liberation Sans", sans-serif' letter-spacing="0.2">PRE</text>
<text x="654.40" y="410.80" font-size="7.2" font-weight="bold" text-anchor="middle" fill="#000" font-family='"Liberation Sans", sans-serif' letter-spacing="0.2">Moderna</text>
<path d="M699.40 390.80V394.40" stroke="#000" stroke-width="1.25"/>
<text x="698.60" y="402.20" font-size="7.2" font-weight="bold" text-anchor="middle" fill="#000" font-family='"Liberation Sans", sans-serif' letter-spacing="0.2">POST</text>
<text x="698.60" y="410.80" font-size="7.2" font-weight="bold" text-anchor="middle" fill="#000" font-family='"Liberation Sans", sans-serif' letter-spacing="0.2">Moderna</text>
<text x="512.40" y="341.15" font-size="7.4" font-weight="bold" text-anchor="middle" fill="#000" font-family='"Liberation Sans", sans-serif' transform="rotate(-90 512.40 341.15)" letter-spacing="0.3">CD4 FS</text>
<path d="M553.30 382.10H582.20" stroke="#000" stroke-width="1.05"/>
<circle cx="567.70" cy="378.10" r="2.25" fill="#000"/>
<circle cx="561.40" cy="381.10" r="2.25" fill="#000"/>
<circle cx="555.10" cy="382.60" r="2.25" fill="#000"/>
<circle cx="567.70" cy="382.60" r="2.25" fill="#000"/>
<circle cx="573.90" cy="381.60" r="2.25" fill="#000"/>
<circle cx="580.20" cy="383.90" r="2.25" fill="#000"/>
<path d="M597.10 339.70H626.00" stroke="#000" stroke-width="1.05"/>
<circle cx="611.60" cy="311.80" r="2.25" fill="#000"/>
<circle cx="603.60" cy="337.40" r="2.25" fill="#000"/>
<circle cx="611.60" cy="340.70" r="2.25" fill="#000"/>
<circle cx="619.70" cy="338.90" r="2.25" fill="#000"/>
<circle cx="611.60" cy="357.50" r="2.25" fill="#000"/>
<circle cx="611.60" cy="376.40" r="2.25" fill="#000"/>
<path d="M640.80 380.10H669.70" stroke="#000" stroke-width="1.05"/>
<circle cx="663.20" cy="369.60" r="2.25" fill="#000"/>
<circle cx="655.10" cy="371.80" r="2.25" fill="#000"/>
<circle cx="655.10" cy="377.40" r="2.25" fill="#000"/>
<circle cx="655.10" cy="383.60" r="2.25" fill="#000"/>
<circle cx="663.20" cy="383.60" r="2.25" fill="#000"/>
<circle cx="647.60" cy="386.70" r="2.25" fill="#000"/>
<path d="M684.30 320.80H713.70" stroke="#000" stroke-width="1.05"/>
<circle cx="699.10" cy="300.50" r="2.25" fill="#000"/>
<circle cx="695.30" cy="316.80" r="2.25" fill="#000"/>
<circle cx="703.40" cy="319.80" r="2.25" fill="#000"/>
<circle cx="694.80" cy="321.10" r="2.25" fill="#000"/>
<circle cx="699.10" cy="327.40" r="2.25" fill="#000"/>
<circle cx="699.10" cy="352.70" r="2.25" fill="#000"/>
<path d="M567.20 371.70V288.90H611.60V306.70" stroke="#000" stroke-width="1.35" fill="none"/>
<text x="589.90" y="288.40" font-size="13" font-weight="bold" text-anchor="middle" fill="#000" font-family='"Liberation Sans", sans-serif' letter-spacing="0.8">**</text>
<path d="M614.90 306.70V274.00H703.40V295.40" stroke="#000" stroke-width="1.35" fill="none"/>
<text x="658.90" y="269.40" font-size="8.8" font-weight="normal" text-anchor="middle" fill="#222" font-family='"Liberation Sans", sans-serif'>ns</text>
<path d="M655.10 366.30V287.10H699.10V294.70" stroke="#000" stroke-width="1.35" fill="none"/>
<text x="677.60" y="286.70" font-size="13" font-weight="bold" text-anchor="middle" fill="#000" font-family='"Liberation Sans", sans-serif' letter-spacing="0.8">****</text>
<text x="637.60" y="262.80" font-size="13.3" font-weight="bold" text-anchor="middle" fill="#000" font-family='"Liberation Sans", sans-serif' letter-spacing="-0.45">Adults</text>
<path d="M313.20 454.10V553.90H499.40" stroke="#000" stroke-width="1.5" fill="none"/>
<path d="M308.60 553.90H313.20" stroke="#000" stroke-width="1.25"/>
<text x="307.90" y="556.50" font-size="7.2" font-weight="bold" text-anchor="end" fill="#000" font-family='"Liberation Sans", sans-serif' letter-spacing="0.2">0.00</text>
<path d="M308.60 520.83H313.20" stroke="#000" stroke-width="1.25"/>
<text x="307.90" y="523.43" font-size="7.2" font-weight="bold" text-anchor="end" fill="#000" font-family='"Liberation Sans", sans-serif' letter-spacing="0.2">0.05</text>
<path d="M308.60 487.77H313.20" stroke="#000" stroke-width="1.25"/>
<text x="307.90" y="490.37" font-size="7.2" font-weight="bold" text-anchor="end" fill="#000" font-family='"Liberation Sans", sans-serif' letter-spacing="0.2">0.10</text>
<path d="M308.60 454.70H313.20" stroke="#000" stroke-width="1.25"/>
<text x="307.90" y="457.30" font-size="7.2" font-weight="bold" text-anchor="end" fill="#000" font-family='"Liberation Sans", sans-serif' letter-spacing="0.2">0.15</text>
<path d="M342.30 553.90V557.50" stroke="#000" stroke-width="1.25"/>
<text x="341.60" y="564.90" font-size="7.2" font-weight="bold" text-anchor="middle" fill="#000" font-family='"Liberation Sans", sans-serif' letter-spacing="0.2">PRE</text>
<text x="341.60" y="573.50" font-size="7.2" font-weight="bold" text-anchor="middle" fill="#000" font-family='"Liberation Sans", sans-serif' letter-spacing="0.2">Pfizer</text>
<path d="M386.50 553.90V557.50" stroke="#000" stroke-width="1.25"/>
<text x="385.80" y="564.90" font-size="7.2" font-weight="bold" text-anchor="middle" fill="#000" font-family='"Liberation Sans", sans-serif' letter-spacing="0.2">POST</text>
<text x="385.80" y="573.50" font-size="7.2" font-weight="bold" text-anchor="middle" fill="#000" font-family='"Liberation Sans", sans-serif' letter-spacing="0.2">Pfizer</text>
<path d="M430.20 553.90V557.50" stroke="#000" stroke-width="1.25"/>
<text x="429.50" y="564.90" font-size="7.2" font-weight="bold" text-anchor="middle" fill="#000" font-family='"Liberation Sans", sans-serif' letter-spacing="0.2">PRE</text>
<text x="429.50" y="573.50" font-size="7.2" font-weight="bold" text-anchor="middle" fill="#000" font-family='"Liberation Sans", sans-serif' letter-spacing="0.2">Moderna</text>
<path d="M474.60 553.90V557.50" stroke="#000" stroke-width="1.25"/>
<text x="473.90" y="564.90" font-size="7.2" font-weight="bold" text-anchor="middle" fill="#000" font-family='"Liberation Sans", sans-serif' letter-spacing="0.2">POST</text>
<text x="473.90" y="573.50" font-size="7.2" font-weight="bold" text-anchor="middle" fill="#000" font-family='"Liberation Sans", sans-serif' letter-spacing="0.2">Moderna</text>
<text x="287.20" y="504.30" font-size="7.4" font-weight="bold" text-anchor="middle" fill="#000" font-family='"Liberation Sans", sans-serif' transform="rotate(-90 287.20 504.30)" letter-spacing="0.3">CD4 PFS</text>
<path d="M329.00 549.70H357.00" stroke="#000" stroke-width="1.05"/>
<circle cx="336.10" cy="546.20" r="2.25" fill="#000"/>
<circle cx="330.20" cy="549.70" r="2.25" fill="#000"/>
<circle cx="342.30" cy="549.70" r="2.25" fill="#000"/>
<circle cx="349.00" cy="548.10" r="2.25" fill="#000"/>
<circle cx="355.10" cy="550.50" r="2.25" fill="#000"/>
<path d="M372.20 548.10H401.40" stroke="#000" stroke-width="1.05"/>
<circle cx="386.50" cy="536.20" r="2.25" fill="#000"/>
<circle cx="374.10" cy="546.70" r="2.25" fill="#000"/>
<circle cx="382.40" cy="547.60" r="2.25" fill="#000"/>
<circle cx="390.80" cy="548.10" r="2.25" fill="#000"/>
<circle cx="399.30" cy="547.60" r="2.25" fill="#000"/>
<circle cx="374.10" cy="550.90" r="2.25" fill="#000"/>
<path d="M416.20 548.10H445.10" stroke="#000" stroke-width="1.05"/>
<circle cx="426.10" cy="544.00" r="2.25" fill="#000"/>
<circle cx="417.80" cy="548.10" r="2.25" fill="#000"/>
<circle cx="434.90" cy="547.60" r="2.25" fill="#000"/>
<circle cx="443.20" cy="546.20" r="2.25" fill="#000"/>
<circle cx="426.10" cy="551.90" r="2.25" fill="#000"/>
<circle cx="434.90" cy="551.40" r="2.25" fill="#000"/>
<path d="M459.90 531.40H488.60" stroke="#000" stroke-width="1.05"/>
<circle cx="474.60" cy="513.90" r="2.25" fill="#000"/>
<circle cx="466.50" cy="530.30" r="2.25" fill="#000"/>
<circle cx="482.40" cy="530.70" r="2.25" fill="#000"/>
<circle cx="474.60" cy="532.60" r="2.25" fill="#000"/>
<circle cx="478.40" cy="541.20" r="2.25" fill="#000"/>
<circle cx="470.50" cy="543.10" r="2.25" fill="#000"/>
<path d="M342.30 541.70V520.10H384.30V530.50" stroke="#000" stroke-width="1.35" fill="none"/>
<text x="363.20" y="514.80" font-size="8.8" font-weight="normal" text-anchor="middle" fill="#222" font-family='"Liberation Sans", sans-serif'>ns</text>
<path d="M387.20 530.50V483.20H480.30V509.10" stroke="#000" stroke-width="1.35" fill="none"/>
<text x="433.70" y="483.30" font-size="13" font-weight="bold" text-anchor="middle" fill="#000" font-family='"Liberation Sans", sans-serif' letter-spacing="0.8">*</text>
<path d="M430.20 538.60V502.20H474.60V508.40" stroke="#000" stroke-width="1.35" fill="none"/>
<text x="452.70" y="502.30" font-size="13" font-weight="bold" text-anchor="middle" fill="#000" font-family='"Liberation Sans", sans-serif' letter-spacing="0.8">**</text>
<text x="394.80" y="440.00" font-size="13.3" font-weight="bold" text-anchor="middle" fill="#000" font-family='"Liberation Sans", sans-serif' letter-spacing="-0.12">Infants</text>
<path d="M539.40 454.10V554.40H729.40" stroke="#000" stroke-width="1.5" fill="none"/>
<path d="M534.80 554.40H539.40" stroke="#000" stroke-width="1.25"/>
<text x="533.90" y="557.00" font-size="7.2" font-weight="bold" text-anchor="end" fill="#000" font-family='"Liberation Sans", sans-serif' letter-spacing="0.2">0.00</text>
<path d="M534.80 521.17H539.40" stroke="#000" stroke-width="1.25"/>
<text x="533.90" y="523.77" font-size="7.2" font-weight="bold" text-anchor="end" fill="#000" font-family='"Liberation Sans", sans-serif' letter-spacing="0.2">0.05</text>
<path d="M534.80 487.93H539.40" stroke="#000" stroke-width="1.25"/>
<text x="533.90" y="490.53" font-size="7.2" font-weight="bold" text-anchor="end" fill="#000" font-family='"Liberation Sans", sans-serif' letter-spacing="0.2">0.10</text>
<path d="M534.80 454.70H539.40" stroke="#000" stroke-width="1.25"/>
<text x="533.90" y="457.30" font-size="7.2" font-weight="bold" text-anchor="end" fill="#000" font-family='"Liberation Sans", sans-serif' letter-spacing="0.2">0.15</text>
<path d="M568.50 554.40V558.00" stroke="#000" stroke-width="1.25"/>
<text x="568.60" y="566.40" font-size="7.2" font-weight="bold" text-anchor="middle" fill="#000" font-family='"Liberation Sans", sans-serif' letter-spacing="0.2">PRE</text>
<text x="568.60" y="575.00" font-size="7.2" font-weight="bold" text-anchor="middle" fill="#000" font-family='"Liberation Sans", sans-serif' letter-spacing="0.2">Pfizer</text>
<path d="M612.60 554.40V558.00" stroke="#000" stroke-width="1.25"/>
<text x="612.70" y="566.40" font-size="7.2" font-weight="bold" text-anchor="middle" fill="#000" font-family='"Liberation Sans", sans-serif' letter-spacing="0.2">POST</text>
<text x="612.70" y="575.00" font-size="7.2" font-weight="bold" text-anchor="middle" fill="#000" font-family='"Liberation Sans", sans-serif' letter-spacing="0.2">Pfizer</text>
<path d="M656.60 554.40V558.00" stroke="#000" stroke-width="1.25"/>
<text x="656.70" y="566.40" font-size="7.2" font-weight="bold" text-anchor="middle" fill="#000" font-family='"Liberation Sans", sans-serif' letter-spacing="0.2">PRE</text>
<text x="656.70" y="575.00" font-size="7.2" font-weight="bold" text-anchor="middle" fill="#000" font-family='"Liberation Sans", sans-serif' letter-spacing="0.2">Moderna</text>
<path d="M700.90 554.40V558.00" stroke="#000" stroke-width="1.25"/>
<text x="701.00" y="566.40" font-size="7.2" font-weight="bold" text-anchor="middle" fill="#000" font-family='"Liberation Sans", sans-serif' letter-spacing="0.2">POST</text>
<text x="701.00" y="575.00" font-size="7.2" font-weight="bold" text-anchor="middle" fill="#000" font-family='"Liberation Sans", sans-serif' letter-spacing="0.2">Moderna</text>
<text x="512.40" y="504.55" font-size="7.4" font-weight="bold" text-anchor="middle" fill="#000" font-family='"Liberation Sans", sans-serif' transform="rotate(-90 512.40 504.55)" letter-spacing="0.3">CD4 PFS</text>
<path d="M554.00 549.70H583.00" stroke="#000" stroke-width="1.05"/>
<circle cx="555.90" cy="550.50" r="2.25" fill="#000"/>
<circle cx="560.70" cy="549.00" r="2.25" fill="#000"/>
<circle cx="565.90" cy="549.00" r="2.25" fill="#000"/>
<circle cx="571.10" cy="549.00" r="2.25" fill="#000"/>
<circle cx="576.60" cy="550.90" r="2.25" fill="#000"/>
<circle cx="581.60" cy="549.50" r="2.25" fill="#000"/>
<path d="M598.00 528.80H627.20" stroke="#000" stroke-width="1.05"/>
<circle cx="612.70" cy="510.80" r="2.25" fill="#000"/>
<circle cx="612.70" cy="527.90" r="2.25" fill="#000"/>
<circle cx="604.80" cy="528.60" r="2.25" fill="#000"/>
<circle cx="620.50" cy="528.80" r="2.25" fill="#000"/>
<circle cx="612.70" cy="537.60" r="2.25" fill="#000"/>
<circle cx="612.70" cy="548.10" r="2.25" fill="#000"/>
<path d="M642.20 549.50H671.20" stroke="#000" stroke-width="1.05"/>
<circle cx="660.50" cy="542.10" r="2.25" fill="#000"/>
<circle cx="652.90" cy="543.60" r="2.25" fill="#000"/>
<circle cx="649.10" cy="547.60" r="2.25" fill="#000"/>
<circle cx="649.10" cy="551.90" r="2.25" fill="#000"/>
<circle cx="656.90" cy="551.40" r="2.25" fill="#000"/>
<circle cx="664.80" cy="551.40" r="2.25" fill="#000"/>
<path d="M686.20 517.20H715.60" stroke="#000" stroke-width="1.05"/>
<circle cx="700.90" cy="503.70" r="2.25" fill="#000"/>
<circle cx="696.80" cy="514.60" r="2.25" fill="#000"/>
<circle cx="704.90" cy="515.50" r="2.25" fill="#000"/>
<circle cx="696.80" cy="519.10" r="2.25" fill="#000"/>
<circle cx="704.90" cy="522.40" r="2.25" fill="#000"/>
<circle cx="700.90" cy="536.70" r="2.25" fill="#000"/>
<path d="M568.50 539.30V491.30H612.40V504.40" stroke="#000" stroke-width="1.35" fill="none"/>
<text x="590.50" y="490.40" font-size="13" font-weight="bold" text-anchor="middle" fill="#000" font-family='"Liberation Sans", sans-serif' letter-spacing="0.8">**</text>
<path d="M615.80 504.40V478.00H707.50V497.20" stroke="#000" stroke-width="1.35" fill="none"/>
<text x="661.70" y="473.00" font-size="8.8" font-weight="normal" text-anchor="middle" fill="#222" font-family='"Liberation Sans", sans-serif'>ns</text>
<path d="M656.50 535.70V492.00H700.90V497.20" stroke="#000" stroke-width="1.35" fill="none"/>
<text x="679.20" y="491.60" font-size="13" font-weight="bold" text-anchor="middle" fill="#000" font-family='"Liberation Sans", sans-serif' letter-spacing="0.8">***</text>
<text x="638.50" y="440.00" font-size="13.3" font-weight="bold" text-anchor="middle" fill="#000" font-family='"Liberation Sans", sans-serif' letter-spacing="-0.45">Adults</text>
</svg>
</body></html>
